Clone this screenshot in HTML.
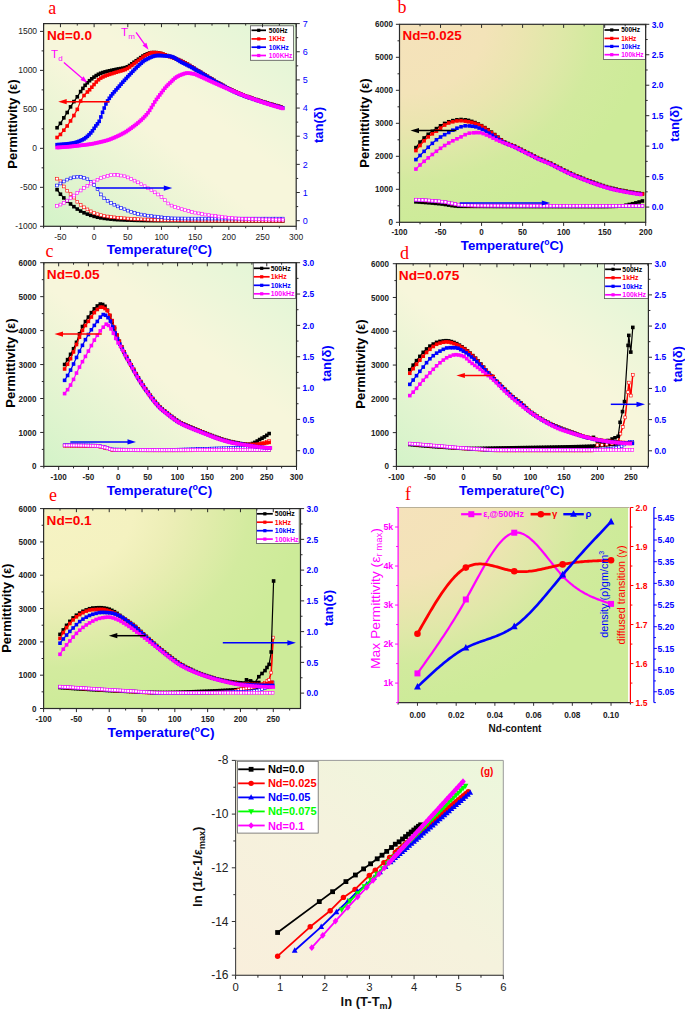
<!DOCTYPE html>
<html><head><meta charset="utf-8"><style>
html,body{margin:0;padding:0;background:#fff;width:685px;height:1010px;overflow:hidden}
svg{display:block}
text{font-family:"Liberation Sans", sans-serif}
</style></head><body>
<svg width="685" height="1010" viewBox="0 0 685 1010">
<defs><linearGradient id="ga" x1="0" y1="1" x2="1" y2="0"><stop offset="0" stop-color="#d3f3c8"/><stop offset="0.45" stop-color="#f7f6db"/><stop offset="0.6" stop-color="#f7f6db"/><stop offset="1" stop-color="#dff6d6"/></linearGradient><marker id="m0" markerUnits="userSpaceOnUse" markerWidth="10.8" markerHeight="10.8" refX="0" refY="0" viewBox="-5.4 -5.4 10.8 10.8" overflow="visible"><rect x="-1.8" y="-1.8" width="3.6" height="3.6" fill="#000"/></marker><marker id="m1" markerUnits="userSpaceOnUse" markerWidth="10.2" markerHeight="10.2" refX="0" refY="0" viewBox="-5.1 -5.1 10.2 10.2" overflow="visible"><rect x="-1.4" y="-1.4" width="2.8" height="2.8" fill="#fff" stroke="#ff0000" stroke-width="0.6"/></marker><marker id="m2" markerUnits="userSpaceOnUse" markerWidth="10.2" markerHeight="10.2" refX="0" refY="0" viewBox="-5.1 -5.1 10.2 10.2" overflow="visible"><rect x="-1.4" y="-1.4" width="2.8" height="2.8" fill="#fff" stroke="#0000ff" stroke-width="0.6"/></marker><marker id="m3" markerUnits="userSpaceOnUse" markerWidth="10.2" markerHeight="10.2" refX="0" refY="0" viewBox="-5.1 -5.1 10.2 10.2" overflow="visible"><rect x="-1.4" y="-1.4" width="2.8" height="2.8" fill="#fff" stroke="#ff00ff" stroke-width="0.6"/></marker><marker id="m4" markerUnits="userSpaceOnUse" markerWidth="10.8" markerHeight="10.8" refX="0" refY="0" viewBox="-5.4 -5.4 10.8 10.8" overflow="visible"><rect x="-1.8" y="-1.8" width="3.6" height="3.6" fill="#ff0000"/></marker><marker id="m5" markerUnits="userSpaceOnUse" markerWidth="10.8" markerHeight="10.8" refX="0" refY="0" viewBox="-5.4 -5.4 10.8 10.8" overflow="visible"><rect x="-1.8" y="-1.8" width="3.6" height="3.6" fill="#0000ff"/></marker><marker id="m6" markerUnits="userSpaceOnUse" markerWidth="10.8" markerHeight="10.8" refX="0" refY="0" viewBox="-5.4 -5.4 10.8 10.8" overflow="visible"><rect x="-1.8" y="-1.8" width="3.6" height="3.6" fill="#ff00ff"/></marker><radialGradient id="gb" cx="0" cy="0" r="1"><stop offset="0" stop-color="#f5e2bb"/><stop offset="0.35" stop-color="#f3e3b8"/><stop offset="0.5" stop-color="#ebe5b0"/><stop offset="0.65" stop-color="#dfe8a8"/><stop offset="0.8" stop-color="#d2ea9e"/><stop offset="1" stop-color="#cdeb99"/></radialGradient><linearGradient id="gc" x1="0" y1="1" x2="1" y2="0"><stop offset="0" stop-color="#d3f3c8"/><stop offset="0.45" stop-color="#f7f6db"/><stop offset="0.6" stop-color="#f7f6db"/><stop offset="1" stop-color="#dff6d6"/></linearGradient><marker id="m7" markerUnits="userSpaceOnUse" markerWidth="9" markerHeight="9" refX="0" refY="0" viewBox="-4.5 -4.5 9 9" overflow="visible"><rect x="-1.5" y="-1.5" width="3" height="3" fill="#000"/></marker><linearGradient id="gd" x1="0" y1="1" x2="1" y2="0"><stop offset="0" stop-color="#d3f3c8"/><stop offset="0.45" stop-color="#f7f6db"/><stop offset="0.6" stop-color="#f7f6db"/><stop offset="1" stop-color="#dff6d6"/></linearGradient><radialGradient id="ge" cx="0" cy="0" r="1"><stop offset="0" stop-color="#f6f3c4"/><stop offset="0.35" stop-color="#f4f2c0"/><stop offset="0.5" stop-color="#eceeb6"/><stop offset="0.65" stop-color="#e0ecaa"/><stop offset="0.8" stop-color="#d3eb9f"/><stop offset="1" stop-color="#cdeb99"/></radialGradient><radialGradient id="gf" cx="0" cy="0" r="1"><stop offset="0" stop-color="#f5e2bb"/><stop offset="0.35" stop-color="#f3e3b8"/><stop offset="0.5" stop-color="#ebe5b0"/><stop offset="0.65" stop-color="#dfe8a8"/><stop offset="0.8" stop-color="#d2ea9e"/><stop offset="1" stop-color="#cdeb99"/></radialGradient><rect id="fsq" x="-3" y="-3" width="6" height="6" fill="#ff00ff"/><circle id="fci" r="3.3" fill="#ff0000"/><polygon id="ftr" points="0,-4 3.4,2.6 -3.4,2.6" fill="#0000ff"/><linearGradient id="gg" x1="0" y1="1" x2="1" y2="0"><stop offset="0" stop-color="#f9efdc"/><stop offset="0.5" stop-color="#f5f2dd"/><stop offset="1" stop-color="#ecf7dc"/></linearGradient><marker id="m8" markerUnits="userSpaceOnUse" markerWidth="14.4" markerHeight="14.4" refX="0" refY="0" viewBox="-7.2 -7.2 14.4 14.4" overflow="visible"><rect x="-2.4" y="-2.4" width="4.8" height="4.8" fill="#000"/></marker><marker id="m9" markerUnits="userSpaceOnUse" markerWidth="16.2" markerHeight="16.2" refX="0" refY="0" viewBox="-8.1 -8.1 16.2 16.2" overflow="visible"><circle r="2.7" fill="#ff0000"/></marker><marker id="m10" markerUnits="userSpaceOnUse" markerWidth="17.4" markerHeight="17.4" refX="0" refY="0" viewBox="-8.7 -8.7 17.4 17.4" overflow="visible"><polygon points="0,-3.19 2.9,2.17 -2.9,2.17" fill="#0000ff"/></marker><marker id="m11" markerUnits="userSpaceOnUse" markerWidth="17.4" markerHeight="17.4" refX="0" refY="0" viewBox="-8.7 -8.7 17.4 17.4" overflow="visible"><polygon points="0,3.19 2.9,-2.17 -2.9,-2.17" fill="#00ff00"/></marker><marker id="m12" markerUnits="userSpaceOnUse" markerWidth="16.8" markerHeight="16.8" refX="0" refY="0" viewBox="-8.4 -8.4 16.8 16.8" overflow="visible"><polygon points="0,-3.36 2.8,0 0,3.36 -2.8,0" fill="#ff00ff"/></marker></defs>
<rect width="685" height="1010" fill="#fff"/>
<rect x="43.6" y="23.6" width="252.6" height="202.7" fill="url(#ga)" stroke="none" stroke-width="1"/>
<polyline points="57.07,189.66 60.44,194.21 63.81,197.91 67.18,201.08 70.54,203.95 73.91,206.67 77.28,209.05 80.65,211.07 84.02,212.79 87.38,214.14 90.75,215.33 94.12,216.38 97.49,217.25 100.86,217.89 104.22,218.38 107.59,218.8 110.96,219.17 114.33,219.47 117.7,219.69 121.06,219.85 124.43,219.98 127.8,220.1 131.17,220.21 134.54,220.31 137.9,220.4 141.27,220.48 144.64,220.54 148.01,220.6 151.38,220.64 154.74,220.68 158.11,220.7 161.48,220.72 164.85,220.73 168.22,220.75 171.58,220.77 174.95,220.78 178.32,220.79 181.69,220.81 185.06,220.82 188.42,220.83 191.79,220.85 195.16,220.86 198.53,220.87 201.9,220.88 205.26,220.89 208.63,220.9 212,220.91 215.37,220.92 218.74,220.93 222.1,220.93 225.47,220.94 228.84,220.95 232.21,220.95 235.58,220.96 238.94,220.97 242.31,220.97 245.68,220.98 249.05,220.98 252.42,220.98 255.78,220.99 259.15,220.99 262.52,220.99 265.89,220.99 269.26,221 272.62,221 275.99,221 279.36,221 282.73,221" fill="none" stroke="#000" stroke-width="1.2" stroke-linejoin="round" marker-start="url(#m0)" marker-mid="url(#m0)" marker-end="url(#m0)"/>
<polyline points="57.07,178.67 60.44,181.26 63.81,186.47 67.18,190.71 70.54,194.16 73.91,197.58 77.28,201.74 80.65,204.84 84.02,207.32 87.38,209.42 90.75,211.35 94.12,213 97.49,214.22 100.86,215.13 104.22,215.89 107.59,216.5 110.96,216.97 114.33,217.36 117.7,217.71 121.06,218.03 124.43,218.31 127.8,218.56 131.17,218.78 134.54,218.98 137.9,219.15 141.27,219.31 144.64,219.46 148.01,219.6 151.38,219.73 154.74,219.85 158.11,219.96 161.48,220.06 164.85,220.15 168.22,220.22 171.58,220.27 174.95,220.31 178.32,220.34 181.69,220.37 185.06,220.4 188.42,220.42 191.79,220.45 195.16,220.48 198.53,220.5 201.9,220.52 205.26,220.55 208.63,220.57 212,220.59 215.37,220.61 218.74,220.63 222.1,220.64 225.47,220.66 228.84,220.68 232.21,220.69 235.58,220.71 238.94,220.72 242.31,220.73 245.68,220.74 249.05,220.75 252.42,220.76 255.78,220.77 259.15,220.78 262.52,220.78 265.89,220.79 269.26,220.79 272.62,220.8 275.99,220.8 279.36,220.8 282.73,220.8" fill="none" stroke="#ff0000" stroke-width="0.6" stroke-linejoin="round" marker-start="url(#m1)" marker-mid="url(#m1)" marker-end="url(#m1)"/>
<polyline points="57.07,185.49 60.44,183.48 63.81,181.48 67.18,179.62 70.54,178.37 73.91,177.32 77.28,176.73 80.65,176.93 84.02,177.76 87.38,179.28 90.75,181.86 94.12,185.01 97.49,189.01 100.86,194.43 104.22,198.3 107.59,200.82 110.96,202.84 114.33,204.71 117.7,206.4 121.06,207.92 124.43,209.29 127.8,210.61 131.17,211.86 134.54,212.97 137.9,213.88 141.27,214.57 144.64,215.16 148.01,215.67 151.38,216.12 154.74,216.54 158.11,216.92 161.48,217.33 164.85,217.73 168.22,218.07 171.58,218.32 174.95,218.41 178.32,218.46 181.69,218.5 185.06,218.53 188.42,218.56 191.79,218.58 195.16,218.59 198.53,218.6 201.9,218.6 205.26,218.6 208.63,218.6 212,218.6 215.37,218.6 218.74,218.6 222.1,218.6 225.47,218.6 228.84,218.6 232.21,218.6 235.58,218.6 238.94,218.6 242.31,218.6 245.68,218.6 249.05,218.6 252.42,218.6 255.78,218.6 259.15,218.6 262.52,218.6 265.89,218.6 269.26,218.6 272.62,218.6 275.99,218.6 279.36,218.6 282.73,218.6" fill="none" stroke="#0000ff" stroke-width="0.6" stroke-linejoin="round" marker-start="url(#m2)" marker-mid="url(#m2)" marker-end="url(#m2)"/>
<polyline points="57.07,205.85 60.44,204.55 63.81,202.85 67.18,200.56 70.54,198.04 73.91,195.53 77.28,192.98 80.65,190.5 84.02,188.05 87.38,185.74 90.75,183.55 94.12,181.49 97.49,179.71 100.86,178.14 104.22,176.8 107.59,175.86 110.96,175.12 114.33,174.8 117.7,175.03 121.06,175.58 124.43,176.27 127.8,177.4 131.17,178.95 134.54,180.63 137.9,182.33 141.27,184.22 144.64,186.22 148.01,188.26 151.38,190.28 154.74,192.32 158.11,194.49 161.48,196.91 164.85,200.11 168.22,203.49 171.58,205.57 174.95,206.97 178.32,208.1 181.69,209.15 185.06,210.14 188.42,211.06 191.79,211.9 195.16,212.67 198.53,213.37 201.9,214 205.26,214.58 208.63,215.12 212,215.61 215.37,216.07 218.74,216.49 222.1,216.91 225.47,217.33 228.84,217.72 232.21,218.08 235.58,218.38 238.94,218.58 242.31,218.72 245.68,218.84 249.05,218.96 252.42,219.07 255.78,219.18 259.15,219.27 262.52,219.35 265.89,219.42 269.26,219.48 272.62,219.53 275.99,219.57 279.36,219.59 282.73,219.6" fill="none" stroke="#ff00ff" stroke-width="0.6" stroke-linejoin="round" marker-start="url(#m3)" marker-mid="url(#m3)" marker-end="url(#m3)"/>
<polyline points="57.07,127.75 60.44,123.34 63.81,117.85 67.18,112.5 70.54,106.85 73.91,101.58 77.28,96.78 80.65,91.57 82.87,88.37 85.09,85.33 87.32,82.77 89.54,80.72 91.76,78.82 93.99,77.1 96.21,75.58 98.43,74.3 100.65,73.29 102.88,72.52 105.1,71.86 107.32,71.29 109.55,70.78 111.77,70.31 113.99,69.85 116.21,69.38 118.44,68.95 120.66,68.58 122.88,68.18 125.11,67.64 127.33,66.79 129.55,65.45 131.77,63.85 134,62.24 136.22,60.76 138.44,59.19 140.67,57.59 142.89,56.08 145.11,54.81 147.33,53.87 149.56,53.04 151.78,52.6 154,52.6 156.23,52.6 158.45,52.86 160.67,53.44 162.89,54.18 165.12,54.91 167.34,55.59 169.56,56.31 171.79,57.07 174.01,57.89 176.23,58.75 178.45,59.67 180.68,60.65 182.9,61.74 185.12,62.94 187.35,64.21 189.57,65.55 191.79,66.92 194.01,68.31 196.24,69.7 198.46,71.06 200.68,72.38 202.91,73.72 205.13,75.08 207.35,76.45 209.58,77.82 211.8,79.17 214.02,80.51 216.24,81.81 218.47,83.08 220.69,84.29 222.91,85.5 225.14,86.69 227.36,87.87 229.58,89.02 231.8,90.13 234.03,91.21 236.25,92.24 238.47,93.21 240.7,94.13 242.92,95 245.14,95.84 247.36,96.64 249.59,97.42 251.81,98.17 254.03,98.9 256.26,99.63 258.48,100.34 260.7,101.04 262.92,101.74 265.15,102.43 267.37,103.1 269.59,103.76 271.82,104.41 274.04,105.05 276.26,105.67 278.48,106.28 280.71,106.88" fill="none" stroke="#000" stroke-width="1.2" stroke-linejoin="round" marker-start="url(#m0)" marker-mid="url(#m0)" marker-end="url(#m0)"/>
<polyline points="57.07,137.49 60.44,134.46 63.81,130.22 67.18,125.97 70.54,120.94 73.91,115.52 77.28,109.36 80.65,100.98 84.02,95.49 87.38,91.99 89.61,89.75 91.83,87.2 94.05,84.54 96.28,81.98 98.5,79.77 100.72,78.1 102.94,76.94 105.17,75.95 107.39,75.1 109.61,74.35 111.84,73.65 114.06,72.96 116.28,72.24 118.5,71.58 120.73,70.98 122.95,70.35 125.17,69.57 127.4,68.5 129.62,67.07 131.84,65.41 134.06,63.67 136.29,62 138.51,60.43 140.73,58.77 142.96,57.14 145.18,55.67 147.4,54.5 149.62,53.49 151.85,52.73 154.07,52.62 156.29,52.75 158.52,52.96 160.74,53.41 162.96,54.12 165.18,54.96 167.41,55.84 169.63,56.65 171.85,57.4 174.08,58.16 176.3,58.95 178.52,59.82 180.74,60.78 182.97,61.86 185.19,63.04 187.41,64.3 189.64,65.63 191.86,66.99 194.08,68.38 196.31,69.75 198.53,71.1 200.75,72.42 202.97,73.76 205.2,75.11 207.42,76.48 209.64,77.85 211.87,79.21 214.09,80.55 216.31,81.85 218.53,83.11 220.76,84.33 222.98,85.54 225.2,86.73 227.43,87.9 229.65,89.05 231.87,90.17 234.09,91.24 236.32,92.27 238.54,93.24 240.76,94.15 242.99,95.03 245.21,95.86 247.43,96.66 249.65,97.44 251.88,98.19 254.1,98.93 256.32,99.65 258.55,100.36 260.77,101.07 262.99,101.76 265.21,102.45 267.44,103.12 269.66,103.78 271.88,104.43 274.11,105.07 276.33,105.69 278.55,106.3 280.77,106.9" fill="none" stroke="#ff0000" stroke-width="1.2" stroke-linejoin="round" marker-start="url(#m4)" marker-mid="url(#m4)" marker-end="url(#m4)"/>
<polyline points="57.07,144.68 58.76,144.62 60.44,144.53 62.12,144.41 63.81,144.27 65.49,144.1 67.18,143.91 68.86,143.71 70.54,143.49 72.23,143.25 73.91,142.93 75.6,142.5 77.28,141.96 78.96,141.33 80.65,140.61 82.33,139.83 84.02,138.92 85.7,137.74 87.38,136.32 89.07,134.71 90.75,132.96 92.44,130.85 94.12,128.34 95.8,125.92 97.49,123.81 99.17,121.31 100.86,116.93 102.54,112.31 104.22,108.03 105.91,103.96 107.59,100.91 109.28,98.29 110.96,95.95 112.64,93.81 114.33,91.82 116.01,89.92 117.7,88.03 119.38,86.11 121.06,84.13 122.75,82.19 124.43,80.3 126.12,78.45 127.8,76.63 129.48,74.84 131.17,73.07 132.85,71.3 134.54,69.56 136.22,67.85 137.9,66.21 139.59,64.65 141.27,63.14 142.96,61.65 144.64,60.38 146.32,59.46 148.01,58.59 149.69,57.77 151.38,57.02 153.06,56.38 154.74,55.9 156.43,55.59 158.11,55.5 159.8,55.52 161.48,55.59 163.16,55.68 164.85,55.81 166.53,55.97 168.22,56.16 169.9,56.36 171.58,56.63 173.27,57.22 174.95,58.11 176.64,59.17 178.32,60.3 180,61.38 181.69,62.31 183.37,63.16 185.06,64 186.74,64.84 188.42,65.69 190.11,66.56 191.79,67.47 193.48,68.42 195.16,69.41 196.84,70.41 198.53,71.42 200.21,72.43 201.9,73.43 203.58,74.45 205.26,75.48 206.95,76.51 208.63,77.54 210.32,78.57 212,79.59 213.68,80.6 215.37,81.6 217.05,82.57 218.74,83.52 220.42,84.45 222.1,85.37 223.79,86.29 225.47,87.2 227.16,88.1 228.84,88.99 230.52,89.85 232.21,90.7 233.89,91.52 235.58,92.32 237.26,93.08 238.94,93.81 240.63,94.5 242.31,95.17 244,95.81 245.68,96.44 247.36,97.04 249.05,97.63 250.73,98.2 252.42,98.77 254.1,99.32 255.78,99.87 257.47,100.41 259.15,100.95 260.84,101.49 262.52,102.02 264.2,102.55 265.89,103.07 267.57,103.59 269.26,104.1 270.94,104.6 272.62,105.09 274.31,105.58 275.99,106.06 277.68,106.53 279.36,107 281.04,107.45 282.73,107.9" fill="none" stroke="#0000ff" stroke-width="1.2" stroke-linejoin="round" marker-start="url(#m5)" marker-mid="url(#m5)" marker-end="url(#m5)"/>
<polyline points="57.07,147.54 58.76,147.45 60.44,147.34 62.12,147.23 63.81,147.11 65.49,146.98 67.18,146.84 68.86,146.7 70.54,146.55 72.23,146.38 73.91,146.2 75.6,146 77.28,145.79 78.96,145.58 80.65,145.37 82.33,145.16 84.02,144.96 85.7,144.77 87.38,144.56 89.07,144.34 90.75,144.08 92.44,143.78 94.12,143.44 95.8,143.07 97.49,142.7 99.17,142.32 100.86,141.93 102.54,141.54 104.22,141.12 105.91,140.67 107.59,140.17 109.28,139.61 110.96,138.98 112.64,138.29 114.33,137.57 116.01,136.83 117.7,136.07 119.38,135.28 121.06,134.44 122.75,133.56 124.43,132.63 126.12,131.62 127.8,130.51 129.48,129.33 131.17,128.11 132.85,126.88 134.54,125.62 136.22,124.32 137.9,122.95 139.59,121.5 141.27,119.98 142.96,118.37 144.64,116.64 146.32,114.78 148.01,112.72 149.69,110.32 151.38,107.53 153.06,104.75 154.74,101.97 156.43,99.45 158.11,97.13 159.8,94.89 161.48,92.65 163.16,90.39 164.85,88.22 166.53,86.29 168.22,84.57 169.9,82.95 171.58,81.34 173.27,79.68 174.95,78.17 176.64,77 178.32,76.04 180,75.23 181.69,74.58 183.37,73.94 185.06,73.4 186.74,73.12 188.42,73.14 190.11,73.29 191.79,73.53 193.48,73.81 195.16,74.28 196.84,74.96 198.53,75.74 200.21,76.49 201.9,77.22 203.58,77.98 205.26,78.76 206.95,79.55 208.63,80.34 210.32,81.12 212,81.88 213.68,82.64 215.37,83.39 217.05,84.15 218.74,84.9 220.42,85.65 222.1,86.4 223.79,87.14 225.47,87.87 227.16,88.6 228.84,89.32 230.52,90.03 232.21,90.74 233.89,91.45 235.58,92.16 237.26,92.86 238.94,93.56 240.63,94.25 242.31,94.93 244,95.59 245.68,96.25 247.36,96.89 249.05,97.51 250.73,98.12 252.42,98.72 254.1,99.32 255.78,99.91 257.47,100.5 259.15,101.08 260.84,101.65 262.52,102.22 264.2,102.78 265.89,103.33 267.57,103.88 269.26,104.42 270.94,104.95 272.62,105.47 274.31,105.98 275.99,106.48 277.68,106.98 279.36,107.46 281.04,107.93 282.73,108.4" fill="none" stroke="#ff00ff" stroke-width="1.2" stroke-linejoin="round" marker-start="url(#m6)" marker-mid="url(#m6)" marker-end="url(#m6)"/>
<line x1="109.5" y1="101.7" x2="65.7" y2="101.7" stroke="#ff0000" stroke-width="1.5"/>
<polygon points="58.2,101.7 66.7,99.1 66.7,104.3" fill="#ff0000"/>
<line x1="96.2" y1="188.1" x2="164.8" y2="188.1" stroke="#0000ff" stroke-width="1.5"/>
<polygon points="172.3,188.1 163.8,190.7 163.8,185.5" fill="#0000ff"/>
<line x1="63.9" y1="62.4" x2="82.77" y2="78.77" stroke="#ff00ff" stroke-width="1.3"/>
<polygon points="87.3,82.7 80.44,79.93 83.59,76.3" fill="#ff00ff"/>
<line x1="136.1" y1="32.3" x2="145.03" y2="44.9" stroke="#ff00ff" stroke-width="1.3"/>
<polygon points="148.5,49.8 142.49,45.48 146.41,42.7" fill="#ff00ff"/>
<text x="51" y="57.7" font-size="11.5" fill="#ff00ff">T</text>
<text x="58.3" y="61.3" font-size="8" fill="#ff00ff">d</text>
<text x="120.9" y="35.8" font-size="11.5" fill="#ff00ff">T</text>
<text x="128.2" y="39.4" font-size="8" fill="#ff00ff">m</text>
<text x="47" y="39.6" font-size="13.6" fill="#ff0000" font-weight="bold">Nd=0.0</text>
<rect x="250.4" y="25.8" width="43.2" height="34.5" fill="#fff" stroke="#555" stroke-width="0.8"/>
<line x1="251.5" y1="30.3" x2="266" y2="30.3" stroke="#000" stroke-width="1.7"/>
<rect x="257.15" y="28.7" width="3.2" height="3.2" fill="#000" stroke="none" stroke-width="1"/>
<text x="268.8" y="32.64" font-size="6.5" fill="#000" font-weight="bold">500Hz</text>
<line x1="251.5" y1="38.9" x2="266" y2="38.9" stroke="#ff0000" stroke-width="1.7"/>
<rect x="257.15" y="37.3" width="3.2" height="3.2" fill="#ff0000" stroke="none" stroke-width="1"/>
<text x="268.8" y="41.24" font-size="6.5" fill="#ff0000" font-weight="bold">1KHz</text>
<line x1="251.5" y1="47.2" x2="266" y2="47.2" stroke="#0000ff" stroke-width="1.7"/>
<rect x="257.15" y="45.6" width="3.2" height="3.2" fill="#0000ff" stroke="none" stroke-width="1"/>
<text x="268.8" y="49.54" font-size="6.5" fill="#0000ff" font-weight="bold">10KHz</text>
<line x1="251.5" y1="55.5" x2="266" y2="55.5" stroke="#ff00ff" stroke-width="1.7"/>
<rect x="257.15" y="53.9" width="3.2" height="3.2" fill="#ff00ff" stroke="none" stroke-width="1"/>
<text x="268.8" y="57.84" font-size="6.5" fill="#ff00ff" font-weight="bold">100KHz</text>
<rect x="43.6" y="23.6" width="252.6" height="202.7" fill="none" stroke="#2b2b2b" stroke-width="1.2"/>
<line x1="60.44" y1="226.3" x2="60.44" y2="229.9" stroke="#2b2b2b" stroke-width="1"/>
<line x1="60.44" y1="23.6" x2="60.44" y2="27.2" stroke="#2b2b2b" stroke-width="1"/>
<line x1="94.12" y1="226.3" x2="94.12" y2="229.9" stroke="#2b2b2b" stroke-width="1"/>
<line x1="94.12" y1="23.6" x2="94.12" y2="27.2" stroke="#2b2b2b" stroke-width="1"/>
<line x1="127.8" y1="226.3" x2="127.8" y2="229.9" stroke="#2b2b2b" stroke-width="1"/>
<line x1="127.8" y1="23.6" x2="127.8" y2="27.2" stroke="#2b2b2b" stroke-width="1"/>
<line x1="161.48" y1="226.3" x2="161.48" y2="229.9" stroke="#2b2b2b" stroke-width="1"/>
<line x1="161.48" y1="23.6" x2="161.48" y2="27.2" stroke="#2b2b2b" stroke-width="1"/>
<line x1="195.16" y1="226.3" x2="195.16" y2="229.9" stroke="#2b2b2b" stroke-width="1"/>
<line x1="195.16" y1="23.6" x2="195.16" y2="27.2" stroke="#2b2b2b" stroke-width="1"/>
<line x1="228.84" y1="226.3" x2="228.84" y2="229.9" stroke="#2b2b2b" stroke-width="1"/>
<line x1="228.84" y1="23.6" x2="228.84" y2="27.2" stroke="#2b2b2b" stroke-width="1"/>
<line x1="262.52" y1="226.3" x2="262.52" y2="229.9" stroke="#2b2b2b" stroke-width="1"/>
<line x1="262.52" y1="23.6" x2="262.52" y2="27.2" stroke="#2b2b2b" stroke-width="1"/>
<line x1="296.2" y1="226.3" x2="296.2" y2="229.9" stroke="#2b2b2b" stroke-width="1"/>
<line x1="296.2" y1="23.6" x2="296.2" y2="27.2" stroke="#2b2b2b" stroke-width="1"/>
<line x1="43.6" y1="226.3" x2="43.6" y2="228.3" stroke="#2b2b2b" stroke-width="1"/>
<line x1="43.6" y1="23.6" x2="43.6" y2="25.6" stroke="#2b2b2b" stroke-width="1"/>
<line x1="77.28" y1="226.3" x2="77.28" y2="228.3" stroke="#2b2b2b" stroke-width="1"/>
<line x1="77.28" y1="23.6" x2="77.28" y2="25.6" stroke="#2b2b2b" stroke-width="1"/>
<line x1="110.96" y1="226.3" x2="110.96" y2="228.3" stroke="#2b2b2b" stroke-width="1"/>
<line x1="110.96" y1="23.6" x2="110.96" y2="25.6" stroke="#2b2b2b" stroke-width="1"/>
<line x1="144.64" y1="226.3" x2="144.64" y2="228.3" stroke="#2b2b2b" stroke-width="1"/>
<line x1="144.64" y1="23.6" x2="144.64" y2="25.6" stroke="#2b2b2b" stroke-width="1"/>
<line x1="178.32" y1="226.3" x2="178.32" y2="228.3" stroke="#2b2b2b" stroke-width="1"/>
<line x1="178.32" y1="23.6" x2="178.32" y2="25.6" stroke="#2b2b2b" stroke-width="1"/>
<line x1="212" y1="226.3" x2="212" y2="228.3" stroke="#2b2b2b" stroke-width="1"/>
<line x1="212" y1="23.6" x2="212" y2="25.6" stroke="#2b2b2b" stroke-width="1"/>
<line x1="245.68" y1="226.3" x2="245.68" y2="228.3" stroke="#2b2b2b" stroke-width="1"/>
<line x1="245.68" y1="23.6" x2="245.68" y2="25.6" stroke="#2b2b2b" stroke-width="1"/>
<line x1="279.36" y1="226.3" x2="279.36" y2="228.3" stroke="#2b2b2b" stroke-width="1"/>
<line x1="279.36" y1="23.6" x2="279.36" y2="25.6" stroke="#2b2b2b" stroke-width="1"/>
<text x="60.44" y="239.8" font-size="8.5" fill="#222" text-anchor="middle">-50</text>
<text x="94.12" y="239.8" font-size="8.5" fill="#222" text-anchor="middle">0</text>
<text x="127.8" y="239.8" font-size="8.5" fill="#222" text-anchor="middle">50</text>
<text x="161.48" y="239.8" font-size="8.5" fill="#222" text-anchor="middle">100</text>
<text x="195.16" y="239.8" font-size="8.5" fill="#222" text-anchor="middle">150</text>
<text x="228.84" y="239.8" font-size="8.5" fill="#222" text-anchor="middle">200</text>
<text x="262.52" y="239.8" font-size="8.5" fill="#222" text-anchor="middle">250</text>
<text x="296.2" y="239.8" font-size="8.5" fill="#222" text-anchor="middle">300</text>
<line x1="40" y1="226.3" x2="43.6" y2="226.3" stroke="#2b2b2b" stroke-width="1"/>
<line x1="40" y1="187.32" x2="43.6" y2="187.32" stroke="#2b2b2b" stroke-width="1"/>
<line x1="40" y1="148.34" x2="43.6" y2="148.34" stroke="#2b2b2b" stroke-width="1"/>
<line x1="40" y1="109.36" x2="43.6" y2="109.36" stroke="#2b2b2b" stroke-width="1"/>
<line x1="40" y1="70.38" x2="43.6" y2="70.38" stroke="#2b2b2b" stroke-width="1"/>
<line x1="40" y1="31.4" x2="43.6" y2="31.4" stroke="#2b2b2b" stroke-width="1"/>
<line x1="41.6" y1="206.81" x2="43.6" y2="206.81" stroke="#2b2b2b" stroke-width="1"/>
<line x1="41.6" y1="167.83" x2="43.6" y2="167.83" stroke="#2b2b2b" stroke-width="1"/>
<line x1="41.6" y1="128.85" x2="43.6" y2="128.85" stroke="#2b2b2b" stroke-width="1"/>
<line x1="41.6" y1="89.87" x2="43.6" y2="89.87" stroke="#2b2b2b" stroke-width="1"/>
<line x1="41.6" y1="50.89" x2="43.6" y2="50.89" stroke="#2b2b2b" stroke-width="1"/>
<text x="37.1" y="229.36" font-size="8.5" fill="#222" text-anchor="end">-1000</text>
<text x="37.1" y="190.38" font-size="8.5" fill="#222" text-anchor="end">-500</text>
<text x="37.1" y="151.4" font-size="8.5" fill="#222" text-anchor="end">0</text>
<text x="37.1" y="112.42" font-size="8.5" fill="#222" text-anchor="end">500</text>
<text x="37.1" y="73.44" font-size="8.5" fill="#222" text-anchor="end">1000</text>
<text x="37.1" y="34.46" font-size="8.5" fill="#222" text-anchor="end">1500</text>
<line x1="296.2" y1="220.67" x2="299.8" y2="220.67" stroke="#2b2b2b" stroke-width="1"/>
<line x1="296.2" y1="192.52" x2="299.8" y2="192.52" stroke="#2b2b2b" stroke-width="1"/>
<line x1="296.2" y1="164.36" x2="299.8" y2="164.36" stroke="#2b2b2b" stroke-width="1"/>
<line x1="296.2" y1="136.21" x2="299.8" y2="136.21" stroke="#2b2b2b" stroke-width="1"/>
<line x1="296.2" y1="108.06" x2="299.8" y2="108.06" stroke="#2b2b2b" stroke-width="1"/>
<line x1="296.2" y1="79.91" x2="299.8" y2="79.91" stroke="#2b2b2b" stroke-width="1"/>
<line x1="296.2" y1="51.75" x2="299.8" y2="51.75" stroke="#2b2b2b" stroke-width="1"/>
<line x1="296.2" y1="23.6" x2="299.8" y2="23.6" stroke="#2b2b2b" stroke-width="1"/>
<line x1="296.2" y1="206.59" x2="298.2" y2="206.59" stroke="#2b2b2b" stroke-width="1"/>
<line x1="296.2" y1="178.44" x2="298.2" y2="178.44" stroke="#2b2b2b" stroke-width="1"/>
<line x1="296.2" y1="150.29" x2="298.2" y2="150.29" stroke="#2b2b2b" stroke-width="1"/>
<line x1="296.2" y1="122.13" x2="298.2" y2="122.13" stroke="#2b2b2b" stroke-width="1"/>
<line x1="296.2" y1="93.98" x2="298.2" y2="93.98" stroke="#2b2b2b" stroke-width="1"/>
<line x1="296.2" y1="65.83" x2="298.2" y2="65.83" stroke="#2b2b2b" stroke-width="1"/>
<line x1="296.2" y1="37.68" x2="298.2" y2="37.68" stroke="#2b2b2b" stroke-width="1"/>
<text x="302.7" y="223.91" font-size="9" fill="#0000ff">0</text>
<text x="302.7" y="195.76" font-size="9" fill="#0000ff">1</text>
<text x="302.7" y="167.6" font-size="9" fill="#0000ff">2</text>
<text x="302.7" y="139.45" font-size="9" fill="#0000ff">3</text>
<text x="302.7" y="111.3" font-size="9" fill="#0000ff">4</text>
<text x="302.7" y="83.15" font-size="9" fill="#0000ff">5</text>
<text x="302.7" y="54.99" font-size="9" fill="#0000ff">6</text>
<text x="302.7" y="26.84" font-size="9" fill="#0000ff">7</text>
<text x="48.3" y="13.6" font-size="18" fill="#ff0000" style="font-family:'Liberation Serif', serif">a</text>
<text x="17" y="124" font-size="13" fill="#000" font-weight="bold" text-anchor="middle" transform="rotate(-90 17 124)">Permittivity (ε)</text>
<text x="323" y="125" font-size="13" fill="#0000ff" font-weight="bold" text-anchor="middle" transform="rotate(-90 323 125)">tan(δ)</text>
<text x="106.7" y="254.2" font-size="13.1" fill="#0000ff" font-weight="bold" textLength="105.3" lengthAdjust="spacingAndGlyphs">Temperature(<tspan dy="-4.6" font-size="8.5">o</tspan><tspan dy="4.6">C)</tspan></text>
<rect x="399.5" y="24.3" width="246.2" height="198" fill="url(#gb)" stroke="none" stroke-width="1"/>
<polyline points="415.91,201.85 419.2,202.05 422.48,202.28 425.76,202.53 429.04,202.79 432.33,203.08 435.61,203.38 438.89,203.69 442.17,204.05 445.46,204.53 448.74,205.08 452.02,205.6 455.31,206.02 458.59,206.27 461.87,206.31 465.15,206.33 468.44,206.34 471.72,206.36 475,206.38 478.28,206.39 481.57,206.4 484.85,206.42 488.13,206.43 491.41,206.44 494.7,206.46 497.98,206.47 501.26,206.48 504.55,206.49 507.83,206.5 511.11,206.51 514.39,206.51 517.68,206.52 520.96,206.53 524.24,206.54 527.52,206.54 530.81,206.55 534.09,206.55 537.37,206.56 540.65,206.56 543.94,206.57 547.22,206.57 550.5,206.58 553.79,206.58 557.07,206.58 560.35,206.59 563.63,206.59 566.92,206.59 570.2,206.59 573.48,206.59 576.76,206.6 580.05,206.6 583.33,206.6 586.61,206.6 589.89,206.6 593.18,206.6 596.46,206.6 599.74,206.6 603.03,206.59 606.31,206.56 609.59,206.5 612.87,206.42 616.16,206.32 619.44,206.19 622.72,205.84 626,205.19 629.29,204.45 632.57,203.72 635.85,202.89 639.13,201.97 642.42,200.96" fill="none" stroke="#000" stroke-width="1.2" stroke-linejoin="round" marker-start="url(#m0)" marker-mid="url(#m0)" marker-end="url(#m0)"/>
<polyline points="415.91,200.04 419.2,200.2 422.48,200.38 425.76,200.6 429.04,200.83 432.33,201.08 435.61,201.37 438.89,201.69 442.17,202.05 445.46,202.46 448.74,203.04 452.02,203.76 455.31,204.45 458.59,204.97 461.87,205.22 465.15,205.42 468.44,205.59 471.72,205.72 475,205.82 478.28,205.88 481.57,205.91 484.85,205.93 488.13,205.95 491.41,205.96 494.7,205.98 497.98,206 501.26,206.01 504.55,206.03 507.83,206.04 511.11,206.05 514.39,206.06 517.68,206.08 520.96,206.09 524.24,206.1 527.52,206.11 530.81,206.12 534.09,206.13 537.37,206.13 540.65,206.14 543.94,206.15 547.22,206.15 550.5,206.16 553.79,206.17 557.07,206.17 560.35,206.18 563.63,206.18 566.92,206.18 570.2,206.19 573.48,206.19 576.76,206.19 580.05,206.19 583.33,206.2 586.61,206.2 589.89,206.2 593.18,206.2 596.46,206.2 599.74,206.2 603.03,206.2 606.31,206.2 609.59,206.2 612.87,206.2 616.16,206.2 619.44,206.2 622.72,206.2 626,206.2 629.29,206.2 632.57,206.2 635.85,206.2 639.13,206.2 642.42,206.2" fill="none" stroke="#ff0000" stroke-width="0.6" stroke-linejoin="round" marker-start="url(#m1)" marker-mid="url(#m1)" marker-end="url(#m1)"/>
<polyline points="415.91,199.84 419.2,200 422.48,200.18 425.76,200.4 429.04,200.63 432.33,200.88 435.61,201.17 438.89,201.49 442.17,201.85 445.46,202.26 448.74,202.84 452.02,203.56 455.31,204.25 458.59,204.77 461.87,205.02 465.15,205.22 468.44,205.39 471.72,205.52 475,205.62 478.28,205.68 481.57,205.71 484.85,205.73 488.13,205.75 491.41,205.76 494.7,205.78 497.98,205.8 501.26,205.81 504.55,205.83 507.83,205.84 511.11,205.85 514.39,205.86 517.68,205.88 520.96,205.89 524.24,205.9 527.52,205.91 530.81,205.92 534.09,205.93 537.37,205.93 540.65,205.94 543.94,205.95 547.22,205.95 550.5,205.96 553.79,205.97 557.07,205.97 560.35,205.98 563.63,205.98 566.92,205.98 570.2,205.99 573.48,205.99 576.76,205.99 580.05,205.99 583.33,206 586.61,206 589.89,206 593.18,206 596.46,206 599.74,206 603.03,206 606.31,206 609.59,206 612.87,206 616.16,206 619.44,206 622.72,206 626,206 629.29,206 632.57,206 635.85,206 639.13,206 642.42,206" fill="none" stroke="#0000ff" stroke-width="0.6" stroke-linejoin="round" marker-start="url(#m2)" marker-mid="url(#m2)" marker-end="url(#m2)"/>
<polyline points="415.91,199.64 419.2,199.8 422.48,199.98 425.76,200.2 429.04,200.43 432.33,200.68 435.61,200.97 438.89,201.29 442.17,201.65 445.46,202.06 448.74,202.64 452.02,203.36 455.31,204.05 458.59,204.57 461.87,204.82 465.15,205.02 468.44,205.19 471.72,205.32 475,205.42 478.28,205.48 481.57,205.51 484.85,205.53 488.13,205.55 491.41,205.56 494.7,205.58 497.98,205.6 501.26,205.61 504.55,205.63 507.83,205.64 511.11,205.65 514.39,205.66 517.68,205.68 520.96,205.69 524.24,205.7 527.52,205.71 530.81,205.72 534.09,205.73 537.37,205.73 540.65,205.74 543.94,205.75 547.22,205.75 550.5,205.76 553.79,205.77 557.07,205.77 560.35,205.78 563.63,205.78 566.92,205.78 570.2,205.79 573.48,205.79 576.76,205.79 580.05,205.79 583.33,205.8 586.61,205.8 589.89,205.8 593.18,205.8 596.46,205.8 599.74,205.8 603.03,205.8 606.31,205.8 609.59,205.8 612.87,205.8 616.16,205.8 619.44,205.8 622.72,205.8 626,205.8 629.29,205.8 632.57,205.8 635.85,205.8 639.13,205.8 642.42,205.8" fill="none" stroke="#ff00ff" stroke-width="0.6" stroke-linejoin="round" marker-start="url(#m3)" marker-mid="url(#m3)" marker-end="url(#m3)"/>
<polyline points="415.91,147.63 420.02,142.08 424.12,137.99 428.22,134.3 432.33,131.31 436.43,128.61 440.53,125.81 444.64,123.42 448.74,121.77 452.84,120.63 456.95,119.79 461.05,119.51 465.15,119.82 468.44,120.4 471.72,121.41 475,122.59 478.28,124.02 481.57,125.68 484.85,127.63 488.13,129.75 491.41,132.12 494.7,134.57 497.98,137.19 501.26,139.84 504.55,142.06 507.83,143.55 511.11,144.74 514.39,146.07 517.68,147.67 520.96,149.37 524.24,151.01 527.52,152.63 530.81,154.25 534.09,155.92 537.37,157.6 540.65,159.14 543.94,160.45 547.22,161.73 550.5,163.19 553.79,164.84 557.07,166.53 560.35,168.19 563.63,169.84 566.92,171.45 570.2,173 573.48,174.5 576.76,175.9 580.05,177.2 583.33,178.48 586.61,179.76 589.89,181.04 593.18,182.25 596.46,183.4 599.74,184.52 603.03,185.61 606.31,186.64 609.59,187.58 612.87,188.41 616.16,189.17 619.44,189.87 622.72,190.52 626,191.13 629.29,191.71 632.57,192.26 635.85,192.78 639.13,193.27 642.42,193.72" fill="none" stroke="#000" stroke-width="1.2" stroke-linejoin="round" marker-start="url(#m0)" marker-mid="url(#m0)" marker-end="url(#m0)"/>
<polyline points="415.91,150.55 420.02,145.48 424.12,140.82 428.22,136.86 432.33,133.83 436.43,131.12 440.53,128.12 444.64,125.06 448.74,122.99 452.84,121.8 456.95,120.95 461.05,120.72 465.15,121.15 468.44,121.74 471.72,122.42 475,123.38 478.28,124.59 481.57,126.1 484.85,128.1 488.13,130.26 491.41,132.63 494.7,135.07 497.98,137.63 501.26,140.2 504.55,142.36 507.83,143.84 511.11,145.04 514.39,146.37 517.68,147.97 520.96,149.67 524.24,151.31 527.52,152.93 530.81,154.55 534.09,156.22 537.37,157.9 540.65,159.44 543.94,160.75 547.22,162.03 550.5,163.49 553.79,165.14 557.07,166.83 560.35,168.49 563.63,170.14 566.92,171.75 570.2,173.3 573.48,174.8 576.76,176.2 580.05,177.5 583.33,178.78 586.61,180.06 589.89,181.34 593.18,182.55 596.46,183.7 599.74,184.82 603.03,185.91 606.31,186.94 609.59,187.88 612.87,188.71 616.16,189.47 619.44,190.17 622.72,190.82 626,191.43 629.29,192.01 632.57,192.56 635.85,193.08 639.13,193.57 642.42,194.02" fill="none" stroke="#ff0000" stroke-width="1.2" stroke-linejoin="round" marker-start="url(#m4)" marker-mid="url(#m4)" marker-end="url(#m4)"/>
<polyline points="415.91,159.59 420.02,155.48 424.12,151.33 428.22,147.3 432.33,143.33 436.43,139.77 440.53,137.01 444.64,134.67 448.74,132.48 452.84,130.21 456.95,128.2 461.05,126.77 465.15,125.83 469.26,125.94 472.54,126.27 475.82,126.86 479.1,128.02 482.39,129.48 485.67,131.12 488.95,133.13 492.24,135.22 495.52,137.27 498.8,139.41 502.08,141.44 505.37,143.17 508.65,144.51 511.93,145.73 515.21,147.15 518.5,148.79 521.78,150.49 525.06,152.12 528.34,153.74 531.63,155.36 534.91,157.05 538.19,158.71 541.48,160.19 544.76,161.47 548.04,162.77 551.32,164.29 554.61,165.97 557.89,167.64 561.17,169.3 564.45,170.95 567.74,172.54 571.02,174.08 574.3,175.56 577.58,176.93 580.87,178.22 584.15,179.5 587.43,180.79 590.72,182.05 594,183.24 597.28,184.38 600.56,185.5 603.85,186.57 607.13,187.58 610.41,188.5 613.69,189.31 616.98,190.05 620.26,190.73 623.54,191.37 626.82,191.98 630.11,192.55 633.39,193.1 636.67,193.61 639.96,194.08" fill="none" stroke="#0000ff" stroke-width="1.2" stroke-linejoin="round" marker-start="url(#m5)" marker-mid="url(#m5)" marker-end="url(#m5)"/>
<polyline points="415.91,169.08 420.02,164.98 424.12,161.32 428.22,157.86 432.33,154.48 436.43,151.27 440.53,148.3 444.64,145.49 448.74,142.98 452.84,140.79 456.95,138.81 461.05,136.89 465.15,134.68 469.26,133.17 473.36,132.8 476.64,132.63 479.93,132.68 483.21,133.6 486.49,134.99 489.77,136.42 493.06,138.17 496.34,139.82 499.62,141.19 502.9,142.48 506.19,143.77 509.47,145.03 512.75,146.35 516.03,147.85 519.32,149.52 522.6,151.2 525.88,152.82 529.17,154.44 532.45,156.08 535.73,157.77 539.01,159.4 542.3,160.82 545.58,162.08 548.86,163.43 552.14,165 555.43,166.69 558.71,168.36 561.99,170.02 565.27,171.66 568.56,173.23 571.84,174.76 575.12,176.21 578.41,177.56 581.69,178.84 584.97,180.12 588.25,181.41 591.54,182.66 594.82,183.82 598.1,184.96 601.38,186.07 604.67,187.13 607.95,188.12 611.23,189.01 614.51,189.8 617.8,190.52 621.08,191.2 624.36,191.83 627.65,192.42 630.93,192.99 634.21,193.53 637.49,194.03 640.78,194.5" fill="none" stroke="#ff00ff" stroke-width="1.2" stroke-linejoin="round" marker-start="url(#m6)" marker-mid="url(#m6)" marker-end="url(#m6)"/>
<line x1="456.4" y1="130.6" x2="418" y2="130.6" stroke="#000" stroke-width="1.5"/>
<polygon points="410.5,130.6 419,128 419,133.2" fill="#000"/>
<line x1="459.7" y1="203" x2="542.8" y2="203" stroke="#0000ff" stroke-width="1.5"/>
<polygon points="550.3,203 541.8,205.6 541.8,200.4" fill="#0000ff"/>
<text x="402.5" y="40.2" font-size="13.4" fill="#ff0000" font-weight="bold">Nd=0.025</text>
<rect x="603.5" y="24.9" width="42" height="34.6" fill="#fff" stroke="#555" stroke-width="0.8"/>
<line x1="604.5" y1="30" x2="619" y2="30" stroke="#000" stroke-width="1.7"/>
<rect x="610.15" y="28.4" width="3.2" height="3.2" fill="#000" stroke="none" stroke-width="1"/>
<text x="621.2" y="32.34" font-size="6.5" fill="#000" font-weight="bold">500Hz</text>
<line x1="604.5" y1="38.4" x2="619" y2="38.4" stroke="#ff0000" stroke-width="1.7"/>
<rect x="610.15" y="36.8" width="3.2" height="3.2" fill="#ff0000" stroke="none" stroke-width="1"/>
<text x="621.2" y="40.74" font-size="6.5" fill="#ff0000" font-weight="bold">1kHz</text>
<line x1="604.5" y1="46.4" x2="619" y2="46.4" stroke="#0000ff" stroke-width="1.7"/>
<rect x="610.15" y="44.8" width="3.2" height="3.2" fill="#0000ff" stroke="none" stroke-width="1"/>
<text x="621.2" y="48.74" font-size="6.5" fill="#0000ff" font-weight="bold">10kHz</text>
<line x1="604.5" y1="54.7" x2="619" y2="54.7" stroke="#ff00ff" stroke-width="1.7"/>
<rect x="610.15" y="53.1" width="3.2" height="3.2" fill="#ff00ff" stroke="none" stroke-width="1"/>
<text x="621.2" y="57.04" font-size="6.5" fill="#ff00ff" font-weight="bold">100kHz</text>
<rect x="399.5" y="24.3" width="246.2" height="198" fill="none" stroke="#2b2b2b" stroke-width="1.2"/>
<line x1="399.5" y1="222.3" x2="399.5" y2="225.9" stroke="#2b2b2b" stroke-width="1"/>
<line x1="399.5" y1="24.3" x2="399.5" y2="27.9" stroke="#2b2b2b" stroke-width="1"/>
<line x1="440.53" y1="222.3" x2="440.53" y2="225.9" stroke="#2b2b2b" stroke-width="1"/>
<line x1="440.53" y1="24.3" x2="440.53" y2="27.9" stroke="#2b2b2b" stroke-width="1"/>
<line x1="481.57" y1="222.3" x2="481.57" y2="225.9" stroke="#2b2b2b" stroke-width="1"/>
<line x1="481.57" y1="24.3" x2="481.57" y2="27.9" stroke="#2b2b2b" stroke-width="1"/>
<line x1="522.6" y1="222.3" x2="522.6" y2="225.9" stroke="#2b2b2b" stroke-width="1"/>
<line x1="522.6" y1="24.3" x2="522.6" y2="27.9" stroke="#2b2b2b" stroke-width="1"/>
<line x1="563.63" y1="222.3" x2="563.63" y2="225.9" stroke="#2b2b2b" stroke-width="1"/>
<line x1="563.63" y1="24.3" x2="563.63" y2="27.9" stroke="#2b2b2b" stroke-width="1"/>
<line x1="604.67" y1="222.3" x2="604.67" y2="225.9" stroke="#2b2b2b" stroke-width="1"/>
<line x1="604.67" y1="24.3" x2="604.67" y2="27.9" stroke="#2b2b2b" stroke-width="1"/>
<line x1="645.7" y1="222.3" x2="645.7" y2="225.9" stroke="#2b2b2b" stroke-width="1"/>
<line x1="645.7" y1="24.3" x2="645.7" y2="27.9" stroke="#2b2b2b" stroke-width="1"/>
<line x1="420.02" y1="222.3" x2="420.02" y2="224.3" stroke="#2b2b2b" stroke-width="1"/>
<line x1="420.02" y1="24.3" x2="420.02" y2="26.3" stroke="#2b2b2b" stroke-width="1"/>
<line x1="461.05" y1="222.3" x2="461.05" y2="224.3" stroke="#2b2b2b" stroke-width="1"/>
<line x1="461.05" y1="24.3" x2="461.05" y2="26.3" stroke="#2b2b2b" stroke-width="1"/>
<line x1="502.08" y1="222.3" x2="502.08" y2="224.3" stroke="#2b2b2b" stroke-width="1"/>
<line x1="502.08" y1="24.3" x2="502.08" y2="26.3" stroke="#2b2b2b" stroke-width="1"/>
<line x1="543.12" y1="222.3" x2="543.12" y2="224.3" stroke="#2b2b2b" stroke-width="1"/>
<line x1="543.12" y1="24.3" x2="543.12" y2="26.3" stroke="#2b2b2b" stroke-width="1"/>
<line x1="584.15" y1="222.3" x2="584.15" y2="224.3" stroke="#2b2b2b" stroke-width="1"/>
<line x1="584.15" y1="24.3" x2="584.15" y2="26.3" stroke="#2b2b2b" stroke-width="1"/>
<line x1="625.18" y1="222.3" x2="625.18" y2="224.3" stroke="#2b2b2b" stroke-width="1"/>
<line x1="625.18" y1="24.3" x2="625.18" y2="26.3" stroke="#2b2b2b" stroke-width="1"/>
<text x="0" y="0" font-size="8.1" fill="#222" font-weight="bold" text-anchor="middle" transform="translate(399.5 235.3) scale(1 1.06)">-100</text>
<text x="0" y="0" font-size="8.1" fill="#222" font-weight="bold" text-anchor="middle" transform="translate(440.53 235.3) scale(1 1.06)">-50</text>
<text x="0" y="0" font-size="8.1" fill="#222" font-weight="bold" text-anchor="middle" transform="translate(481.57 235.3) scale(1 1.06)">0</text>
<text x="0" y="0" font-size="8.1" fill="#222" font-weight="bold" text-anchor="middle" transform="translate(522.6 235.3) scale(1 1.06)">50</text>
<text x="0" y="0" font-size="8.1" fill="#222" font-weight="bold" text-anchor="middle" transform="translate(563.63 235.3) scale(1 1.06)">100</text>
<text x="0" y="0" font-size="8.1" fill="#222" font-weight="bold" text-anchor="middle" transform="translate(604.67 235.3) scale(1 1.06)">150</text>
<text x="0" y="0" font-size="8.1" fill="#222" font-weight="bold" text-anchor="middle" transform="translate(645.7 235.3) scale(1 1.06)">200</text>
<line x1="395.9" y1="222.3" x2="399.5" y2="222.3" stroke="#2b2b2b" stroke-width="1"/>
<line x1="395.9" y1="189.3" x2="399.5" y2="189.3" stroke="#2b2b2b" stroke-width="1"/>
<line x1="395.9" y1="156.3" x2="399.5" y2="156.3" stroke="#2b2b2b" stroke-width="1"/>
<line x1="395.9" y1="123.3" x2="399.5" y2="123.3" stroke="#2b2b2b" stroke-width="1"/>
<line x1="395.9" y1="90.3" x2="399.5" y2="90.3" stroke="#2b2b2b" stroke-width="1"/>
<line x1="395.9" y1="57.3" x2="399.5" y2="57.3" stroke="#2b2b2b" stroke-width="1"/>
<line x1="395.9" y1="24.3" x2="399.5" y2="24.3" stroke="#2b2b2b" stroke-width="1"/>
<line x1="397.5" y1="205.8" x2="399.5" y2="205.8" stroke="#2b2b2b" stroke-width="1"/>
<line x1="397.5" y1="172.8" x2="399.5" y2="172.8" stroke="#2b2b2b" stroke-width="1"/>
<line x1="397.5" y1="139.8" x2="399.5" y2="139.8" stroke="#2b2b2b" stroke-width="1"/>
<line x1="397.5" y1="106.8" x2="399.5" y2="106.8" stroke="#2b2b2b" stroke-width="1"/>
<line x1="397.5" y1="73.8" x2="399.5" y2="73.8" stroke="#2b2b2b" stroke-width="1"/>
<line x1="397.5" y1="40.8" x2="399.5" y2="40.8" stroke="#2b2b2b" stroke-width="1"/>
<text x="0" y="0" font-size="8.1" fill="#222" font-weight="bold" text-anchor="end" transform="translate(393 225.39) scale(1 1.06)">0</text>
<text x="0" y="0" font-size="8.1" fill="#222" font-weight="bold" text-anchor="end" transform="translate(393 192.39) scale(1 1.06)">1000</text>
<text x="0" y="0" font-size="8.1" fill="#222" font-weight="bold" text-anchor="end" transform="translate(393 159.39) scale(1 1.06)">2000</text>
<text x="0" y="0" font-size="8.1" fill="#222" font-weight="bold" text-anchor="end" transform="translate(393 126.39) scale(1 1.06)">3000</text>
<text x="0" y="0" font-size="8.1" fill="#222" font-weight="bold" text-anchor="end" transform="translate(393 93.39) scale(1 1.06)">4000</text>
<text x="0" y="0" font-size="8.1" fill="#222" font-weight="bold" text-anchor="end" transform="translate(393 60.39) scale(1 1.06)">5000</text>
<text x="0" y="0" font-size="8.1" fill="#222" font-weight="bold" text-anchor="end" transform="translate(393 27.39) scale(1 1.06)">6000</text>
<line x1="645.7" y1="207.07" x2="649.3" y2="207.07" stroke="#2b2b2b" stroke-width="1"/>
<line x1="645.7" y1="176.61" x2="649.3" y2="176.61" stroke="#2b2b2b" stroke-width="1"/>
<line x1="645.7" y1="146.15" x2="649.3" y2="146.15" stroke="#2b2b2b" stroke-width="1"/>
<line x1="645.7" y1="115.68" x2="649.3" y2="115.68" stroke="#2b2b2b" stroke-width="1"/>
<line x1="645.7" y1="85.22" x2="649.3" y2="85.22" stroke="#2b2b2b" stroke-width="1"/>
<line x1="645.7" y1="54.76" x2="649.3" y2="54.76" stroke="#2b2b2b" stroke-width="1"/>
<line x1="645.7" y1="24.3" x2="649.3" y2="24.3" stroke="#2b2b2b" stroke-width="1"/>
<line x1="645.7" y1="191.84" x2="647.7" y2="191.84" stroke="#2b2b2b" stroke-width="1"/>
<line x1="645.7" y1="161.38" x2="647.7" y2="161.38" stroke="#2b2b2b" stroke-width="1"/>
<line x1="645.7" y1="130.92" x2="647.7" y2="130.92" stroke="#2b2b2b" stroke-width="1"/>
<line x1="645.7" y1="100.45" x2="647.7" y2="100.45" stroke="#2b2b2b" stroke-width="1"/>
<line x1="645.7" y1="69.99" x2="647.7" y2="69.99" stroke="#2b2b2b" stroke-width="1"/>
<line x1="645.7" y1="39.53" x2="647.7" y2="39.53" stroke="#2b2b2b" stroke-width="1"/>
<text x="0" y="0" font-size="8.4" fill="#0000ff" font-weight="bold" transform="translate(651.7 210.27) scale(1 1.06)">0.0</text>
<text x="0" y="0" font-size="8.4" fill="#0000ff" font-weight="bold" transform="translate(651.7 179.81) scale(1 1.06)">0.5</text>
<text x="0" y="0" font-size="8.4" fill="#0000ff" font-weight="bold" transform="translate(651.7 149.35) scale(1 1.06)">1.0</text>
<text x="0" y="0" font-size="8.4" fill="#0000ff" font-weight="bold" transform="translate(651.7 118.89) scale(1 1.06)">1.5</text>
<text x="0" y="0" font-size="8.4" fill="#0000ff" font-weight="bold" transform="translate(651.7 88.43) scale(1 1.06)">2.0</text>
<text x="0" y="0" font-size="8.4" fill="#0000ff" font-weight="bold" transform="translate(651.7 57.97) scale(1 1.06)">2.5</text>
<text x="0" y="0" font-size="8.4" fill="#0000ff" font-weight="bold" transform="translate(651.7 27.51) scale(1 1.06)">3.0</text>
<text x="397.5" y="12.8" font-size="18" fill="#ff0000" style="font-family:'Liberation Serif', serif">b</text>
<text x="368.5" y="123" font-size="13" fill="#000" font-weight="bold" text-anchor="middle" transform="rotate(-90 368.5 123)">Permittivity (ε)</text>
<text x="679" y="123.6" font-size="13" fill="#0000ff" font-weight="bold" text-anchor="middle" transform="rotate(-90 679 123.6)">tan(δ)</text>
<text x="460.8" y="249.9" font-size="13.1" fill="#0000ff" font-weight="bold" textLength="102.7" lengthAdjust="spacingAndGlyphs">Temperature(<tspan dy="-4.6" font-size="8.5">o</tspan><tspan dy="4.6">C)</tspan></text>
<rect x="43.8" y="262.7" width="252.7" height="203.7" fill="url(#gc)" stroke="none" stroke-width="1"/>
<polyline points="64.61,445.7 66.99,445.7 69.37,445.71 71.75,445.73 74.12,445.74 76.5,445.77 78.88,445.8 81.26,445.83 83.64,445.87 86.02,445.92 88.39,445.97 90.77,446.03 93.15,446.09 95.53,446.16 97.91,446.3 100.29,446.7 102.66,447.25 105.04,447.81 107.42,448.48 109.8,449.26 112.18,449.89 114.56,450.11 116.93,450.14 119.31,450.17 121.69,450.2 124.07,450.23 126.45,450.25 128.83,450.27 131.2,450.29 133.58,450.31 135.96,450.33 138.34,450.34 140.72,450.35 143.1,450.36 145.47,450.37 147.85,450.38 150.23,450.39 152.61,450.39 154.99,450.39 157.37,450.4 159.74,450.4 162.12,450.4 164.5,450.4 166.88,450.4 169.26,450.4 171.64,450.4 174.01,450.4 176.39,450.4 178.77,450.4 181.15,450.4 183.53,450.4 185.91,450.4 188.28,450.4 190.66,450.4 193.04,450.4 195.42,450.4 197.8,450.4 200.18,450.4 202.56,450.4 204.93,450.39 207.31,450.39 209.69,450.39 212.07,450.39 214.45,450.39 216.83,450.39 219.2,450.39 221.58,450.38 223.96,450.38 226.34,450.38 228.72,450.38 231.1,450.38 233.47,450.37 235.85,450.37 238.23,450.37 240.61,450.36 242.99,450.36 245.37,450.36 247.74,450.35 250.12,450.35 252.5,450.34 254.88,450.34 257.26,450.33 259.64,450.33 262.01,450.32 264.39,450.32 266.77,450.31 269.15,450.31" fill="none" stroke="#000" stroke-width="1.2" stroke-linejoin="round" marker-start="url(#m7)" marker-mid="url(#m7)" marker-end="url(#m7)"/>
<polyline points="64.61,445.7 66.99,445.7 69.37,445.71 71.75,445.73 74.12,445.74 76.5,445.77 78.88,445.8 81.26,445.83 83.64,445.87 86.02,445.92 88.39,445.97 90.77,446.03 93.15,446.09 95.53,446.16 97.91,446.3 100.29,446.7 102.66,447.25 105.04,447.81 107.42,448.48 109.8,449.26 112.18,449.89 114.56,450.11 116.93,450.14 119.31,450.17 121.69,450.2 124.07,450.23 126.45,450.25 128.83,450.27 131.2,450.29 133.58,450.31 135.96,450.33 138.34,450.34 140.72,450.35 143.1,450.36 145.47,450.37 147.85,450.38 150.23,450.39 152.61,450.39 154.99,450.39 157.37,450.4 159.74,450.4 162.12,450.4 164.5,450.4 166.88,450.4 169.26,450.4 171.64,450.4 174.01,450.39 176.39,450.39 178.77,450.38 181.15,450.38 183.53,450.37 185.91,450.36 188.28,450.35 190.66,450.34 193.04,450.32 195.42,450.31 197.8,450.29 200.18,450.27 202.56,450.25 204.93,450.23 207.31,450.21 209.69,450.18 212.07,450.15 214.45,450.12 216.83,450.09 219.2,450.05 221.58,450.01 223.96,449.97 226.34,449.93 228.72,449.89 231.1,449.84 233.47,449.79 235.85,449.73 238.23,449.68 240.61,449.62 242.99,449.56 245.37,449.48 247.74,449.01 250.12,448.09 252.5,446.92 254.88,445.74 257.26,444.75 259.64,444.01 262.01,443.31 264.39,442.53 266.77,441.7 269.15,440.81" fill="none" stroke="#ff0000" stroke-width="0.6" stroke-linejoin="round" marker-start="url(#m1)" marker-mid="url(#m1)" marker-end="url(#m1)"/>
<polyline points="64.61,445.1 66.99,445.1 69.37,445.11 71.75,445.13 74.12,445.14 76.5,445.17 78.88,445.2 81.26,445.23 83.64,445.27 86.02,445.32 88.39,445.37 90.77,445.43 93.15,445.49 95.53,445.56 97.91,445.7 100.29,446.1 102.66,446.65 105.04,447.21 107.42,447.88 109.8,448.66 112.18,449.29 114.56,449.51 116.93,449.54 119.31,449.57 121.69,449.6 124.07,449.63 126.45,449.65 128.83,449.67 131.2,449.69 133.58,449.71 135.96,449.73 138.34,449.74 140.72,449.75 143.1,449.76 145.47,449.77 147.85,449.78 150.23,449.79 152.61,449.79 154.99,449.79 157.37,449.8 159.74,449.8 162.12,449.8 164.5,449.8 166.88,449.79 169.26,449.78 171.64,449.75 174.01,449.72 176.39,449.68 178.77,449.63 181.15,449.57 183.53,449.51 185.91,449.45 188.28,449.38 190.66,449.3 193.04,449.22 195.42,449.15 197.8,449.06 200.18,448.98 202.56,448.9 204.93,448.81 207.31,448.73 209.69,448.65 212.07,448.57 214.45,448.49 216.83,448.42 219.2,448.35 221.58,448.29 223.96,448.23 226.34,448.17 228.72,448.12 231.1,448.08 233.47,448.05 235.85,448.02 238.23,448.01 240.61,448 242.99,448 245.37,448 247.74,448 250.12,448 252.5,448 254.88,448 257.26,448 259.64,448 262.01,448 264.39,448 266.77,448 269.15,448" fill="none" stroke="#0000ff" stroke-width="0.6" stroke-linejoin="round" marker-start="url(#m2)" marker-mid="url(#m2)" marker-end="url(#m2)"/>
<polyline points="64.61,445.4 66.99,445.4 69.37,445.41 71.75,445.43 74.12,445.44 76.5,445.47 78.88,445.5 81.26,445.53 83.64,445.57 86.02,445.62 88.39,445.67 90.77,445.73 93.15,445.79 95.53,445.86 97.91,446 100.29,446.4 102.66,446.95 105.04,447.51 107.42,448.18 109.8,448.96 112.18,449.59 114.56,449.81 116.93,449.84 119.31,449.87 121.69,449.9 124.07,449.93 126.45,449.95 128.83,449.97 131.2,449.99 133.58,450.01 135.96,450.03 138.34,450.04 140.72,450.05 143.1,450.06 145.47,450.07 147.85,450.08 150.23,450.09 152.61,450.09 154.99,450.09 157.37,450.1 159.74,450.1 162.12,450.1 164.5,450.1 166.88,450.1 169.26,450.1 171.64,450.1 174.01,450.1 176.39,450.1 178.77,450.1 181.15,450.1 183.53,450.1 185.91,450.1 188.28,450.1 190.66,450.1 193.04,450.1 195.42,450.1 197.8,450.1 200.18,450.1 202.56,450.1 204.93,450.09 207.31,450.09 209.69,450.09 212.07,450.09 214.45,450.09 216.83,450.09 219.2,450.09 221.58,450.08 223.96,450.08 226.34,450.08 228.72,450.08 231.1,450.08 233.47,450.07 235.85,450.07 238.23,450.07 240.61,450.06 242.99,450.06 245.37,450.06 247.74,450.05 250.12,450.05 252.5,450.04 254.88,450.04 257.26,450.03 259.64,450.03 262.01,450.02 264.39,450.02 266.77,450.01 269.15,450.01" fill="none" stroke="#ff00ff" stroke-width="0.6" stroke-linejoin="round" marker-start="url(#m3)" marker-mid="url(#m3)" marker-end="url(#m3)"/>
<polyline points="64.61,364.51 67.58,359.62 70.56,354.33 73.53,348.72 76.5,342.36 79.48,333.85 82.45,326.52 85.42,321.53 88.39,317.1 91.37,312.61 94.34,308.85 97.31,305.96 100.29,304.07 102.66,304.5 105.04,306.27 107.42,310.23 109.8,315.89 112.18,321.94 114.56,328.88 116.93,335.33 119.31,341.3 121.69,346.83 124.07,351.94 126.45,356.63 128.83,360.89 131.2,365.02 133.58,369.35 135.96,373.71 138.34,377.8 140.72,381.61 143.1,385.25 145.47,388.72 147.85,392.06 150.23,395.3 152.61,398.5 154.99,401.49 157.37,404.24 159.74,406.78 162.12,408.98 164.5,410.89 166.88,412.74 169.26,414.63 171.64,416.48 174.01,418.26 176.39,419.99 178.77,421.52 181.15,422.82 183.53,423.98 185.91,425.08 188.28,426.1 190.66,427.09 193.04,428.06 195.42,429.03 197.8,429.98 200.18,430.92 202.56,431.85 204.93,432.78 207.31,433.71 209.69,434.66 212.07,435.6 214.45,436.52 216.83,437.4 219.2,438.2 221.58,438.96 223.96,439.71 226.34,440.42 228.72,441.07 231.1,441.64 233.47,442.13 235.85,442.61 238.23,443.09 240.61,443.53 242.99,443.91 245.37,444.2 247.74,444.37 250.12,444.31 252.5,443.47 254.88,442.39 257.26,441.02 259.64,439.53 262.01,438.2 264.39,436.87 266.77,435.32 269.15,433.57" fill="none" stroke="#000" stroke-width="1.2" stroke-linejoin="round" marker-start="url(#m0)" marker-mid="url(#m0)" marker-end="url(#m0)"/>
<polyline points="64.61,368.98 67.58,364.25 70.56,358.69 73.53,351.92 76.5,344.52 79.48,337.18 82.45,330.4 85.42,325.52 88.39,321.35 91.37,317 94.34,312.63 97.31,309.46 100.29,307.22 102.66,307.24 105.04,308.57 107.42,310.71 109.8,315.18 112.18,320.63 114.56,327.16 116.93,334.81 119.31,341.31 121.69,347.07 124.07,352.23 126.45,356.94 128.83,361.19 131.2,365.32 133.58,369.65 135.96,374.01 138.34,378.1 140.72,381.91 143.1,385.55 145.47,389.02 147.85,392.36 150.23,395.6 152.61,398.8 154.99,401.79 157.37,404.54 159.74,407.08 162.12,409.28 164.5,411.19 166.88,413.04 169.26,414.93 171.64,416.78 174.01,418.56 176.39,420.29 178.77,421.82 181.15,423.12 183.53,424.28 185.91,425.38 188.28,426.4 190.66,427.39 193.04,428.36 195.42,429.33 197.8,430.28 200.18,431.22 202.56,432.15 204.93,433.08 207.31,434.01 209.69,434.96 212.07,435.9 214.45,436.82 216.83,437.7 219.2,438.5 221.58,439.26 223.96,440 226.34,440.7 228.72,441.35 231.1,441.93 233.47,442.44 235.85,442.96 238.23,443.47 240.61,443.92 242.99,444.28 245.37,444.47 247.74,444.5 250.12,444.5 252.5,444.5 254.88,444.5 257.26,444.37 259.64,444.05 262.01,443.66 264.39,443.28 266.77,442.86 269.15,442.39" fill="none" stroke="#ff0000" stroke-width="1.2" stroke-linejoin="round" marker-start="url(#m4)" marker-mid="url(#m4)" marker-end="url(#m4)"/>
<polyline points="64.61,380.32 67.58,375.47 70.56,370.12 73.53,364 76.5,357.46 79.48,351.25 82.45,345.34 85.42,339.68 88.39,334.51 91.37,329.77 94.34,325.41 97.31,321.45 100.29,317.14 103.26,314.56 105.64,315.26 108.02,317.63 110.39,321.13 112.77,326.91 115.15,333 117.53,338.92 119.91,344.18 122.29,349.17 124.66,353.92 127.04,358.39 129.42,362.59 131.8,366.78 134.18,371.15 136.56,375.47 138.93,379.47 141.31,383.24 143.69,386.83 146.07,390.27 148.45,393.57 150.83,396.81 153.2,399.97 155.58,402.89 157.96,405.6 160.34,408.07 162.72,410.18 165.1,412.05 167.47,413.92 169.85,415.8 172.23,417.63 174.61,419.4 176.99,421.1 179.37,422.56 181.74,423.82 184.12,424.96 186.5,426.04 188.88,427.05 191.26,428.03 193.64,429.01 196.01,429.97 198.39,430.92 200.77,431.86 203.15,432.79 205.53,433.71 207.91,434.65 210.28,435.6 212.66,436.54 215.04,437.45 217.42,438.3 219.8,439.09 222.18,439.85 224.55,440.58 226.93,441.26 229.31,441.9 231.69,442.46 234.07,442.95 236.45,443.36 238.82,443.73 241.2,444.08 243.58,444.43 245.96,444.81 248.34,445.24 250.72,445.72 253.1,446.18 255.47,446.57 257.85,446.91 260.23,447.22 262.61,447.47 264.99,447.66 267.37,447.83 269.74,447.95" fill="none" stroke="#0000ff" stroke-width="1.2" stroke-linejoin="round" marker-start="url(#m5)" marker-mid="url(#m5)" marker-end="url(#m5)"/>
<polyline points="64.61,393.6 67.58,389.68 70.56,385.07 73.53,379.4 76.5,373.07 79.48,367.1 82.45,361.68 85.42,356.42 88.39,351.12 91.37,345.58 94.34,340.15 97.31,335.3 100.29,330.91 103.26,327.17 106.23,324.17 108.61,325.43 110.99,328.88 113.37,333.3 115.75,338.38 118.12,342.87 120.5,346.37 122.88,350.63 125.26,355.37 127.64,359.73 130.02,363.92 132.39,368.16 134.77,372.55 137.15,376.81 139.53,380.73 141.91,384.45 144.29,388.01 146.66,391.41 149.04,394.69 151.42,397.92 153.8,401.03 156.18,403.88 158.56,406.55 160.93,408.93 163.31,410.96 165.69,412.81 168.07,414.69 170.45,416.56 172.83,418.37 175.2,420.14 177.58,421.79 179.96,423.19 182.34,424.41 184.72,425.54 187.1,426.6 189.47,427.6 191.85,428.57 194.23,429.55 196.61,430.51 198.99,431.45 201.37,432.39 203.74,433.32 206.12,434.24 208.5,435.18 210.88,436.13 213.26,437.07 215.64,437.97 218.01,438.81 220.39,439.58 222.77,440.33 225.15,441.05 227.53,441.73 229.91,442.35 232.28,442.89 234.66,443.36 237.04,443.77 239.42,444.15 241.8,444.5 244.18,444.85 246.55,445.21 248.93,445.58 251.31,445.96 253.69,446.31 256.07,446.65 258.45,446.98 260.82,447.28 263.2,447.52 265.58,447.7 267.96,447.86 270.34,447.98" fill="none" stroke="#ff00ff" stroke-width="1.2" stroke-linejoin="round" marker-start="url(#m6)" marker-mid="url(#m6)" marker-end="url(#m6)"/>
<line x1="101.8" y1="334.1" x2="62" y2="334.1" stroke="#ff0000" stroke-width="1.5"/>
<polygon points="54.5,334.1 63,331.5 63,336.7" fill="#ff0000"/>
<line x1="70.3" y1="441.9" x2="128.5" y2="441.9" stroke="#0000ff" stroke-width="1.5"/>
<polygon points="136,441.9 127.5,444.5 127.5,439.3" fill="#0000ff"/>
<text x="46.8" y="278.6" font-size="13.7" fill="#ff0000" font-weight="bold">Nd=0.05</text>
<rect x="253.3" y="262.7" width="42.4" height="35.7" fill="#fff" stroke="#555" stroke-width="0.8"/>
<line x1="253.8" y1="268.3" x2="269.6" y2="268.3" stroke="#000" stroke-width="1.7"/>
<rect x="260.1" y="266.7" width="3.2" height="3.2" fill="#000" stroke="none" stroke-width="1"/>
<text x="270.7" y="270.78" font-size="6.9" fill="#000" font-weight="bold">500Hz</text>
<line x1="253.8" y1="276.8" x2="269.6" y2="276.8" stroke="#ff0000" stroke-width="1.7"/>
<rect x="260.1" y="275.2" width="3.2" height="3.2" fill="#ff0000" stroke="none" stroke-width="1"/>
<text x="270.7" y="279.28" font-size="6.9" fill="#ff0000" font-weight="bold">1kHz</text>
<line x1="253.8" y1="285.3" x2="269.6" y2="285.3" stroke="#0000ff" stroke-width="1.7"/>
<rect x="260.1" y="283.7" width="3.2" height="3.2" fill="#0000ff" stroke="none" stroke-width="1"/>
<text x="270.7" y="287.78" font-size="6.9" fill="#0000ff" font-weight="bold">10kHz</text>
<line x1="253.8" y1="293.8" x2="269.6" y2="293.8" stroke="#ff00ff" stroke-width="1.7"/>
<rect x="260.1" y="292.2" width="3.2" height="3.2" fill="#ff00ff" stroke="none" stroke-width="1"/>
<text x="270.7" y="296.28" font-size="6.9" fill="#ff00ff" font-weight="bold">100kHz</text>
<rect x="43.8" y="262.7" width="252.7" height="203.7" fill="none" stroke="#2b2b2b" stroke-width="1.2"/>
<line x1="58.66" y1="466.4" x2="58.66" y2="470" stroke="#2b2b2b" stroke-width="1"/>
<line x1="58.66" y1="262.7" x2="58.66" y2="266.3" stroke="#2b2b2b" stroke-width="1"/>
<line x1="88.39" y1="466.4" x2="88.39" y2="470" stroke="#2b2b2b" stroke-width="1"/>
<line x1="88.39" y1="262.7" x2="88.39" y2="266.3" stroke="#2b2b2b" stroke-width="1"/>
<line x1="118.12" y1="466.4" x2="118.12" y2="470" stroke="#2b2b2b" stroke-width="1"/>
<line x1="118.12" y1="262.7" x2="118.12" y2="266.3" stroke="#2b2b2b" stroke-width="1"/>
<line x1="147.85" y1="466.4" x2="147.85" y2="470" stroke="#2b2b2b" stroke-width="1"/>
<line x1="147.85" y1="262.7" x2="147.85" y2="266.3" stroke="#2b2b2b" stroke-width="1"/>
<line x1="177.58" y1="466.4" x2="177.58" y2="470" stroke="#2b2b2b" stroke-width="1"/>
<line x1="177.58" y1="262.7" x2="177.58" y2="266.3" stroke="#2b2b2b" stroke-width="1"/>
<line x1="207.31" y1="466.4" x2="207.31" y2="470" stroke="#2b2b2b" stroke-width="1"/>
<line x1="207.31" y1="262.7" x2="207.31" y2="266.3" stroke="#2b2b2b" stroke-width="1"/>
<line x1="237.04" y1="466.4" x2="237.04" y2="470" stroke="#2b2b2b" stroke-width="1"/>
<line x1="237.04" y1="262.7" x2="237.04" y2="266.3" stroke="#2b2b2b" stroke-width="1"/>
<line x1="266.77" y1="466.4" x2="266.77" y2="470" stroke="#2b2b2b" stroke-width="1"/>
<line x1="266.77" y1="262.7" x2="266.77" y2="266.3" stroke="#2b2b2b" stroke-width="1"/>
<line x1="296.5" y1="466.4" x2="296.5" y2="470" stroke="#2b2b2b" stroke-width="1"/>
<line x1="296.5" y1="262.7" x2="296.5" y2="266.3" stroke="#2b2b2b" stroke-width="1"/>
<line x1="43.8" y1="466.4" x2="43.8" y2="468.4" stroke="#2b2b2b" stroke-width="1"/>
<line x1="43.8" y1="262.7" x2="43.8" y2="264.7" stroke="#2b2b2b" stroke-width="1"/>
<line x1="73.53" y1="466.4" x2="73.53" y2="468.4" stroke="#2b2b2b" stroke-width="1"/>
<line x1="73.53" y1="262.7" x2="73.53" y2="264.7" stroke="#2b2b2b" stroke-width="1"/>
<line x1="103.26" y1="466.4" x2="103.26" y2="468.4" stroke="#2b2b2b" stroke-width="1"/>
<line x1="103.26" y1="262.7" x2="103.26" y2="264.7" stroke="#2b2b2b" stroke-width="1"/>
<line x1="132.99" y1="466.4" x2="132.99" y2="468.4" stroke="#2b2b2b" stroke-width="1"/>
<line x1="132.99" y1="262.7" x2="132.99" y2="264.7" stroke="#2b2b2b" stroke-width="1"/>
<line x1="162.72" y1="466.4" x2="162.72" y2="468.4" stroke="#2b2b2b" stroke-width="1"/>
<line x1="162.72" y1="262.7" x2="162.72" y2="264.7" stroke="#2b2b2b" stroke-width="1"/>
<line x1="192.45" y1="466.4" x2="192.45" y2="468.4" stroke="#2b2b2b" stroke-width="1"/>
<line x1="192.45" y1="262.7" x2="192.45" y2="264.7" stroke="#2b2b2b" stroke-width="1"/>
<line x1="222.18" y1="466.4" x2="222.18" y2="468.4" stroke="#2b2b2b" stroke-width="1"/>
<line x1="222.18" y1="262.7" x2="222.18" y2="264.7" stroke="#2b2b2b" stroke-width="1"/>
<line x1="251.91" y1="466.4" x2="251.91" y2="468.4" stroke="#2b2b2b" stroke-width="1"/>
<line x1="251.91" y1="262.7" x2="251.91" y2="264.7" stroke="#2b2b2b" stroke-width="1"/>
<line x1="281.64" y1="466.4" x2="281.64" y2="468.4" stroke="#2b2b2b" stroke-width="1"/>
<line x1="281.64" y1="262.7" x2="281.64" y2="264.7" stroke="#2b2b2b" stroke-width="1"/>
<text x="0" y="0" font-size="8.1" fill="#222" font-weight="bold" text-anchor="middle" transform="translate(58.66 480.1) scale(1 1.06)">-100</text>
<text x="0" y="0" font-size="8.1" fill="#222" font-weight="bold" text-anchor="middle" transform="translate(88.39 480.1) scale(1 1.06)">-50</text>
<text x="0" y="0" font-size="8.1" fill="#222" font-weight="bold" text-anchor="middle" transform="translate(118.12 480.1) scale(1 1.06)">0</text>
<text x="0" y="0" font-size="8.1" fill="#222" font-weight="bold" text-anchor="middle" transform="translate(147.85 480.1) scale(1 1.06)">50</text>
<text x="0" y="0" font-size="8.1" fill="#222" font-weight="bold" text-anchor="middle" transform="translate(177.58 480.1) scale(1 1.06)">100</text>
<text x="0" y="0" font-size="8.1" fill="#222" font-weight="bold" text-anchor="middle" transform="translate(207.31 480.1) scale(1 1.06)">150</text>
<text x="0" y="0" font-size="8.1" fill="#222" font-weight="bold" text-anchor="middle" transform="translate(237.04 480.1) scale(1 1.06)">200</text>
<text x="0" y="0" font-size="8.1" fill="#222" font-weight="bold" text-anchor="middle" transform="translate(266.77 480.1) scale(1 1.06)">250</text>
<text x="0" y="0" font-size="8.1" fill="#222" font-weight="bold" text-anchor="middle" transform="translate(296.5 480.1) scale(1 1.06)">300</text>
<line x1="40.2" y1="466.4" x2="43.8" y2="466.4" stroke="#2b2b2b" stroke-width="1"/>
<line x1="40.2" y1="432.45" x2="43.8" y2="432.45" stroke="#2b2b2b" stroke-width="1"/>
<line x1="40.2" y1="398.5" x2="43.8" y2="398.5" stroke="#2b2b2b" stroke-width="1"/>
<line x1="40.2" y1="364.55" x2="43.8" y2="364.55" stroke="#2b2b2b" stroke-width="1"/>
<line x1="40.2" y1="330.6" x2="43.8" y2="330.6" stroke="#2b2b2b" stroke-width="1"/>
<line x1="40.2" y1="296.65" x2="43.8" y2="296.65" stroke="#2b2b2b" stroke-width="1"/>
<line x1="40.2" y1="262.7" x2="43.8" y2="262.7" stroke="#2b2b2b" stroke-width="1"/>
<line x1="41.8" y1="449.42" x2="43.8" y2="449.42" stroke="#2b2b2b" stroke-width="1"/>
<line x1="41.8" y1="415.47" x2="43.8" y2="415.47" stroke="#2b2b2b" stroke-width="1"/>
<line x1="41.8" y1="381.52" x2="43.8" y2="381.52" stroke="#2b2b2b" stroke-width="1"/>
<line x1="41.8" y1="347.57" x2="43.8" y2="347.57" stroke="#2b2b2b" stroke-width="1"/>
<line x1="41.8" y1="313.62" x2="43.8" y2="313.62" stroke="#2b2b2b" stroke-width="1"/>
<line x1="41.8" y1="279.67" x2="43.8" y2="279.67" stroke="#2b2b2b" stroke-width="1"/>
<text x="0" y="0" font-size="8.1" fill="#222" font-weight="bold" text-anchor="end" transform="translate(36.6 469.49) scale(1 1.06)">0</text>
<text x="0" y="0" font-size="8.1" fill="#222" font-weight="bold" text-anchor="end" transform="translate(36.6 435.54) scale(1 1.06)">1000</text>
<text x="0" y="0" font-size="8.1" fill="#222" font-weight="bold" text-anchor="end" transform="translate(36.6 401.59) scale(1 1.06)">2000</text>
<text x="0" y="0" font-size="8.1" fill="#222" font-weight="bold" text-anchor="end" transform="translate(36.6 367.64) scale(1 1.06)">3000</text>
<text x="0" y="0" font-size="8.1" fill="#222" font-weight="bold" text-anchor="end" transform="translate(36.6 333.69) scale(1 1.06)">4000</text>
<text x="0" y="0" font-size="8.1" fill="#222" font-weight="bold" text-anchor="end" transform="translate(36.6 299.74) scale(1 1.06)">5000</text>
<text x="0" y="0" font-size="8.1" fill="#222" font-weight="bold" text-anchor="end" transform="translate(36.6 265.79) scale(1 1.06)">6000</text>
<line x1="296.5" y1="450.73" x2="300.1" y2="450.73" stroke="#2b2b2b" stroke-width="1"/>
<line x1="296.5" y1="419.39" x2="300.1" y2="419.39" stroke="#2b2b2b" stroke-width="1"/>
<line x1="296.5" y1="388.05" x2="300.1" y2="388.05" stroke="#2b2b2b" stroke-width="1"/>
<line x1="296.5" y1="356.72" x2="300.1" y2="356.72" stroke="#2b2b2b" stroke-width="1"/>
<line x1="296.5" y1="325.38" x2="300.1" y2="325.38" stroke="#2b2b2b" stroke-width="1"/>
<line x1="296.5" y1="294.04" x2="300.1" y2="294.04" stroke="#2b2b2b" stroke-width="1"/>
<line x1="296.5" y1="262.7" x2="300.1" y2="262.7" stroke="#2b2b2b" stroke-width="1"/>
<line x1="296.5" y1="435.06" x2="298.5" y2="435.06" stroke="#2b2b2b" stroke-width="1"/>
<line x1="296.5" y1="403.72" x2="298.5" y2="403.72" stroke="#2b2b2b" stroke-width="1"/>
<line x1="296.5" y1="372.38" x2="298.5" y2="372.38" stroke="#2b2b2b" stroke-width="1"/>
<line x1="296.5" y1="341.05" x2="298.5" y2="341.05" stroke="#2b2b2b" stroke-width="1"/>
<line x1="296.5" y1="309.71" x2="298.5" y2="309.71" stroke="#2b2b2b" stroke-width="1"/>
<line x1="296.5" y1="278.37" x2="298.5" y2="278.37" stroke="#2b2b2b" stroke-width="1"/>
<text x="0" y="0" font-size="8.4" fill="#0000ff" font-weight="bold" transform="translate(302.5 453.94) scale(1 1.06)">0.0</text>
<text x="0" y="0" font-size="8.4" fill="#0000ff" font-weight="bold" transform="translate(302.5 422.6) scale(1 1.06)">0.5</text>
<text x="0" y="0" font-size="8.4" fill="#0000ff" font-weight="bold" transform="translate(302.5 391.26) scale(1 1.06)">1.0</text>
<text x="0" y="0" font-size="8.4" fill="#0000ff" font-weight="bold" transform="translate(302.5 359.92) scale(1 1.06)">1.5</text>
<text x="0" y="0" font-size="8.4" fill="#0000ff" font-weight="bold" transform="translate(302.5 328.58) scale(1 1.06)">2.0</text>
<text x="0" y="0" font-size="8.4" fill="#0000ff" font-weight="bold" transform="translate(302.5 297.24) scale(1 1.06)">2.5</text>
<text x="0" y="0" font-size="8.4" fill="#0000ff" font-weight="bold" transform="translate(302.5 265.91) scale(1 1.06)">3.0</text>
<text x="45.5" y="256.6" font-size="18" fill="#ff0000" style="font-family:'Liberation Serif', serif">c</text>
<text x="15" y="363" font-size="13" fill="#000" font-weight="bold" text-anchor="middle" transform="rotate(-90 15 363)">Permittivity (ε)</text>
<text x="330.6" y="363.4" font-size="13" fill="#0000ff" font-weight="bold" text-anchor="middle" transform="rotate(-90 330.6 363.4)">tan(δ)</text>
<text x="106.7" y="494.9" font-size="13.1" fill="#0000ff" font-weight="bold" textLength="105.5" lengthAdjust="spacingAndGlyphs">Temperature(<tspan dy="-4.6" font-size="8.5">o</tspan><tspan dy="4.6">C)</tspan></text>
<rect x="396.4" y="263.7" width="252" height="202.7" fill="url(#gd)" stroke="none" stroke-width="1"/>
<polyline points="409.8,444.51 412.49,444.77 415.17,445.03 417.85,445.28 420.53,445.52 423.21,445.75 425.89,445.97 428.57,446.19 431.25,446.4 433.93,446.59 436.61,446.78 439.29,446.96 441.97,447.13 444.66,447.3 447.34,447.49 450.02,447.67 452.7,447.84 455.38,448.01 458.06,448.15 460.74,448.28 463.42,448.39 466.1,448.46 468.78,448.5 471.46,448.5 474.14,448.48 476.83,448.45 479.51,448.42 482.19,448.37 484.87,448.32 487.55,448.26 490.23,448.2 492.91,448.14 495.59,448.08 498.27,448.03 500.95,447.98 503.63,447.94 506.31,447.9 509,447.86 511.68,447.81 514.36,447.77 517.04,447.73 519.72,447.69 522.4,447.65 525.08,447.61 527.76,447.57 530.44,447.53 533.12,447.49 535.8,447.44 538.49,447.4 541.17,447.35 543.85,447.31 546.53,447.26 549.21,447.21 551.89,447.16 554.57,447.11 557.25,447.06 559.93,447 562.61,446.95 565.29,446.89 567.97,446.84 570.66,446.79 573.34,446.74 576.02,446.69 578.7,446.62 581.38,446.56 584.06,446.48 586.74,446.4 589.42,446.3 592.1,446.19 594.78,446.06 597.46,445.88 600.14,445.52 602.83,445.13 605.51,444.86 608.19,444.61 610.87,444.37 613.55,444.14 616.23,443.92 618.91,443.72 621.59,443.53 624.27,443.37 626.95,443.23 629.63,443.11 632.31,443.02" fill="none" stroke="#000" stroke-width="1.2" stroke-linejoin="round" marker-start="url(#m0)" marker-mid="url(#m0)" marker-end="url(#m0)"/>
<polyline points="618.1,442 620.4,433.7 622.8,427 625.2,417.4 627.9,392.2 628.8,382.6 630.8,395.6 632.8,374.8" fill="none" stroke="#ff0000" stroke-width="1.4" stroke-linejoin="round"/>
<polyline points="409.8,444.01 412.49,444.23 415.17,444.45 417.85,444.67 420.53,444.89 423.21,445.11 425.89,445.33 428.57,445.55 431.25,445.78 433.93,446 436.61,446.22 439.29,446.44 441.97,446.67 444.66,446.9 447.34,447.14 450.02,447.38 452.7,447.62 455.38,447.86 458.06,448.09 460.74,448.32 463.42,448.53 466.1,448.74 468.78,448.92 471.46,449.09 474.14,449.27 476.83,449.45 479.51,449.63 482.19,449.81 484.87,449.98 487.55,450.13 490.23,450.26 492.91,450.37 495.59,450.45 498.27,450.49 500.95,450.5 503.63,450.5 506.31,450.5 509,450.5 511.68,450.5 514.36,450.5 517.04,450.5 519.72,450.5 522.4,450.5 525.08,450.5 527.76,450.5 530.44,450.5 533.12,450.5 535.8,450.5 538.49,450.5 541.17,450.5 543.85,450.5 546.53,450.5 549.21,450.5 551.89,450.5 554.57,450.5 557.25,450.5 559.93,450.5 562.61,450.5 565.29,450.5 567.97,450.5 570.66,450.5 573.34,450.5 576.02,450.5 578.7,450.5 581.38,450.5 584.06,450.5 586.74,450.5 589.42,450.5 592.1,450.5 597.4,445 602,444.8 606.7,444.4 612,443.5 618.1,442 620.4,433.7 622.8,427 625.2,417.4 627.9,392.2 628.8,382.6 630.8,395.6 632.8,374.8" fill="none" stroke="#ff0000" stroke-width="0.6" stroke-linejoin="round" marker-start="url(#m1)" marker-mid="url(#m1)" marker-end="url(#m1)"/>
<polyline points="409.8,443.71 412.49,443.93 415.17,444.15 417.85,444.37 420.53,444.59 423.21,444.81 425.89,445.03 428.57,445.25 431.25,445.48 433.93,445.7 436.61,445.92 439.29,446.14 441.97,446.37 444.66,446.6 447.34,446.84 450.02,447.08 452.7,447.32 455.38,447.56 458.06,447.79 460.74,448.02 463.42,448.23 466.1,448.44 468.78,448.62 471.46,448.79 474.14,448.97 476.83,449.15 479.51,449.33 482.19,449.51 484.87,449.68 487.55,449.83 490.23,449.96 492.91,450.07 495.59,450.15 498.27,450.19 500.95,450.2 503.63,450.2 506.31,450.2 509,450.2 511.68,450.19 514.36,450.19 517.04,450.19 519.72,450.18 522.4,450.17 525.08,450.17 527.76,450.16 530.44,450.15 533.12,450.14 535.8,450.13 538.49,450.12 541.17,450.11 543.85,450.09 546.53,450.08 549.21,450.06 551.89,450.04 554.57,450.03 557.25,450.01 559.93,449.99 562.61,449.96 565.29,449.94 567.97,449.91 570.66,449.89 573.34,449.86 576.02,449.83 578.7,449.8 581.38,449.77 584.06,449.73 586.74,449.7 589.42,449.66 592.1,449.62 594.78,449.58 597.46,449.54 600.14,449.5 602.83,449.41 605.51,449.24 608.19,448.98 610.87,448.66 613.55,448.26 616.23,447.78 618.91,447.24 621.59,446.36 624.27,444.53 626.95,442.81 629.63,442.07 632.31,441.71" fill="none" stroke="#0000ff" stroke-width="0.6" stroke-linejoin="round" marker-start="url(#m2)" marker-mid="url(#m2)" marker-end="url(#m2)"/>
<polyline points="409.8,443.51 412.49,443.73 415.17,443.95 417.85,444.17 420.53,444.39 423.21,444.61 425.89,444.83 428.57,445.05 431.25,445.28 433.93,445.5 436.61,445.72 439.29,445.94 441.97,446.17 444.66,446.4 447.34,446.64 450.02,446.88 452.7,447.12 455.38,447.36 458.06,447.59 460.74,447.82 463.42,448.03 466.1,448.24 468.78,448.42 471.46,448.59 474.14,448.77 476.83,448.95 479.51,449.13 482.19,449.31 484.87,449.48 487.55,449.63 490.23,449.76 492.91,449.87 495.59,449.95 498.27,449.99 500.95,450 503.63,450 506.31,450 509,450 511.68,450 514.36,450 517.04,450 519.72,450 522.4,450 525.08,450 527.76,450 530.44,450 533.12,450 535.8,450 538.49,450 541.17,450 543.85,450 546.53,450 549.21,450 551.89,450 554.57,450 557.25,450 559.93,450 562.61,450 565.29,450 567.97,450 570.66,450 573.34,450 576.02,450 578.7,450 581.38,450 584.06,450 586.74,450 589.42,450 592.1,450 594.78,450 597.46,450 600.14,450 602.83,450 605.51,450 608.19,450 610.87,450 613.55,450 616.23,450 618.91,450 621.59,450 624.27,450 626.95,450 629.63,450 632.31,450" fill="none" stroke="#ff00ff" stroke-width="0.6" stroke-linejoin="round" marker-start="url(#m3)" marker-mid="url(#m3)" marker-end="url(#m3)"/>
<polyline points="409.8,369.76 413.16,365.16 416.51,360.67 419.86,356.37 423.21,352.34 426.56,348.96 429.91,346.12 433.26,344.06 436.61,342.36 439.96,341.37 443.31,340.91 446,340.71 448.68,340.88 451.36,341.58 454.04,342.48 456.72,343.64 459.4,345.15 462.08,346.86 464.76,348.71 467.44,350.82 470.12,353.14 472.8,355.6 475.49,358.17 478.17,361 480.85,364.05 483.53,367.2 486.21,370.32 488.89,373.29 491.57,376.09 494.25,378.83 496.93,381.51 499.61,384.15 502.29,386.77 504.97,389.41 507.66,392.03 510.34,394.57 513.02,396.97 515.7,399.16 518.38,401.04 521.06,403.09 523.74,405.55 526.42,408.14 529.1,410.56 531.78,412.58 534.46,414.44 537.14,416.21 539.83,417.88 542.51,419.46 545.19,420.95 547.87,422.35 550.55,423.68 553.23,424.93 555.91,426.11 558.59,427.23 561.27,428.3 563.95,429.32 566.63,430.3 569.31,431.25 572,432.19 574.68,433.21 577.36,434.29 580.04,435.34 582.72,436.3 585.4,437.1 588.08,437.65 590.76,437.89 593.44,437.35 597.4,441 600.5,441.5 604.1,441.7 608,440.5 612.1,439 615,437.8 618.1,436.4 620.1,422.3 622.5,411.6 624.5,401.6 628.1,345.4 628.8,335.4 630.8,352.1 632.8,327.4" fill="none" stroke="#000" stroke-width="1.2" stroke-linejoin="round" marker-start="url(#m0)" marker-mid="url(#m0)" marker-end="url(#m0)"/>
<polyline points="409.8,373.25 413.16,368.66 416.51,364.3 419.86,360.16 423.21,356.2 426.56,352.43 429.91,349.28 433.26,346.47 436.61,344.27 439.96,343.1 443.31,342.26 446,341.92 448.68,342.06 451.36,342.71 454.04,343.64 456.72,344.63 459.4,345.91 462.08,347.47 464.76,349.21 467.44,351.24 470.12,353.57 472.8,356.08 475.49,358.67 478.17,361.48 480.85,364.49 483.53,367.59 486.21,370.66 488.89,373.59 491.57,376.38 494.25,379.12 496.93,381.81 499.61,384.45 502.29,387.07 504.97,389.71 507.66,392.33 510.34,394.87 513.02,397.27 515.7,399.46 518.38,401.34 521.06,403.39 523.74,405.85 526.42,408.44 529.1,410.86 531.78,412.88 534.46,414.74 537.14,416.51 539.83,418.18 542.51,419.76 545.19,421.25 547.87,422.65 550.55,423.98 553.23,425.23 555.91,426.41 558.59,427.53 561.27,428.6 563.95,429.62 566.63,430.6 569.31,431.55 572,432.48 574.68,433.38 577.36,434.28 580.04,435.14 582.72,435.96 585.4,436.74 588.08,437.45 590.76,438.1 593.44,438.69 596.12,439.25 598.8,439.76 601.49,440.23 604.17,440.66 606.85,441.02 609.53,441.34 612.21,441.63 614.89,441.89 617.57,442.11 620.25,442.31 622.93,442.49 625.61,442.65 628.29,442.79 630.97,442.91" fill="none" stroke="#ff0000" stroke-width="1.2" stroke-linejoin="round" marker-start="url(#m4)" marker-mid="url(#m4)" marker-end="url(#m4)"/>
<polyline points="409.8,384.37 413.16,380.05 416.51,375.68 419.86,371.31 423.21,367.05 426.56,362.7 429.91,358.77 433.26,355.71 436.61,353.14 439.96,351.11 443.31,349.32 446.67,347.96 450.02,347.7 452.7,347.7 455.38,347.7 458.06,348.25 460.74,349.64 463.42,351.15 466.1,352.85 468.78,354.82 471.46,356.98 474.14,359.24 476.83,361.61 479.51,364.22 482.19,366.98 484.87,369.81 487.55,372.62 490.23,375.34 492.91,378.08 495.59,380.81 498.27,383.51 500.95,386.16 503.63,388.78 506.31,391.42 509,394.01 511.68,396.49 514.36,398.8 517.04,400.82 519.72,402.7 522.4,404.99 525.08,407.55 527.76,410.09 530.44,412.31 533.12,414.22 535.8,416.04 538.49,417.76 541.17,419.38 543.85,420.91 546.53,422.36 549.21,423.72 551.89,425.01 554.57,426.23 557.25,427.38 559.93,428.47 562.61,429.52 565.29,430.52 567.97,431.48 570.66,432.42 573.34,433.33 576.02,434.23 578.7,435.11 581.38,435.95 584.06,436.76 586.74,437.5 589.42,438.19 592.1,438.8 594.78,439.37 597.46,439.91 600.14,440.4 602.83,440.85 605.51,441.24 608.19,441.58 610.87,441.89 613.55,442.16 616.23,442.4 618.91,442.62 621.59,442.8 624.27,442.97 626.95,443.12 629.63,443.25 632.31,443.36" fill="none" stroke="#0000ff" stroke-width="1.2" stroke-linejoin="round" marker-start="url(#m5)" marker-mid="url(#m5)" marker-end="url(#m5)"/>
<polyline points="409.8,395.6 413.16,392.17 416.51,388.31 419.86,384.2 423.21,380.26 426.56,376.49 429.91,372.85 433.26,369.3 436.61,365.82 439.96,362.77 443.31,360.07 446.67,357.77 450.02,356.2 453.37,355 456.05,354.71 458.73,354.99 461.41,355.58 464.09,356.57 466.77,358.71 469.45,361.27 472.13,363.44 474.81,365.44 477.5,367.4 480.18,369.39 482.86,371.44 485.54,373.49 488.22,375.58 490.9,377.76 493.58,380.11 496.26,382.72 498.94,385.49 501.62,388.26 504.3,390.88 506.99,393.37 509.67,395.81 512.35,398.18 515.03,400.48 517.71,402.71 520.39,404.89 523.07,407 525.75,409.04 528.43,411 531.11,412.91 533.79,414.75 536.47,416.52 539.16,418.22 541.84,419.87 544.52,421.46 547.2,422.98 549.88,424.45 552.56,425.89 555.24,427.25 557.92,428.46 560.6,429.51 563.28,430.43 565.96,431.29 568.64,432.13 571.33,432.98 574.01,433.82 576.69,434.63 579.37,435.41 582.05,436.15 584.73,436.87 587.41,437.55 590.09,438.2 592.77,438.81 595.45,439.39 598.13,439.95 600.81,440.45 603.5,440.89 606.18,441.31 608.86,441.71 611.54,442.09 614.22,442.43 616.9,442.72 619.58,442.96 622.26,443.15 624.94,443.33 627.62,443.48 630.3,443.61" fill="none" stroke="#ff00ff" stroke-width="1.2" stroke-linejoin="round" marker-start="url(#m6)" marker-mid="url(#m6)" marker-end="url(#m6)"/>
<line x1="495" y1="375.5" x2="463.9" y2="375.5" stroke="#ff0000" stroke-width="1.5"/>
<polygon points="456.4,375.5 464.9,372.9 464.9,378.1" fill="#ff0000"/>
<line x1="610.8" y1="404.3" x2="637.5" y2="404.3" stroke="#0000ff" stroke-width="1.5"/>
<polygon points="645,404.3 636.5,406.9 636.5,401.7" fill="#0000ff"/>
<text x="398.8" y="280.4" font-size="13.7" fill="#ff0000" font-weight="bold">Nd=0.075</text>
<rect x="604.6" y="263.7" width="43.8" height="34.9" fill="#fff" stroke="#555" stroke-width="0.8"/>
<line x1="605.1" y1="269.3" x2="621" y2="269.3" stroke="#000" stroke-width="1.7"/>
<rect x="611.45" y="267.7" width="3.2" height="3.2" fill="#000" stroke="none" stroke-width="1"/>
<text x="622.3" y="271.78" font-size="6.9" fill="#000" font-weight="bold">500Hz</text>
<line x1="605.1" y1="277.8" x2="621" y2="277.8" stroke="#ff0000" stroke-width="1.7"/>
<rect x="611.45" y="276.2" width="3.2" height="3.2" fill="#ff0000" stroke="none" stroke-width="1"/>
<text x="622.3" y="280.28" font-size="6.9" fill="#ff0000" font-weight="bold">1kHz</text>
<line x1="605.1" y1="286.3" x2="621" y2="286.3" stroke="#0000ff" stroke-width="1.7"/>
<rect x="611.45" y="284.7" width="3.2" height="3.2" fill="#0000ff" stroke="none" stroke-width="1"/>
<text x="622.3" y="288.78" font-size="6.9" fill="#0000ff" font-weight="bold">10kHz</text>
<line x1="605.1" y1="294.8" x2="621" y2="294.8" stroke="#ff00ff" stroke-width="1.7"/>
<rect x="611.45" y="293.2" width="3.2" height="3.2" fill="#ff00ff" stroke="none" stroke-width="1"/>
<text x="622.3" y="297.28" font-size="6.9" fill="#ff00ff" font-weight="bold">100kHz</text>
<rect x="396.4" y="263.7" width="252" height="202.7" fill="none" stroke="#2b2b2b" stroke-width="1.2"/>
<line x1="396.4" y1="466.4" x2="396.4" y2="470" stroke="#2b2b2b" stroke-width="1"/>
<line x1="396.4" y1="263.7" x2="396.4" y2="267.3" stroke="#2b2b2b" stroke-width="1"/>
<line x1="429.91" y1="466.4" x2="429.91" y2="470" stroke="#2b2b2b" stroke-width="1"/>
<line x1="429.91" y1="263.7" x2="429.91" y2="267.3" stroke="#2b2b2b" stroke-width="1"/>
<line x1="463.42" y1="466.4" x2="463.42" y2="470" stroke="#2b2b2b" stroke-width="1"/>
<line x1="463.42" y1="263.7" x2="463.42" y2="267.3" stroke="#2b2b2b" stroke-width="1"/>
<line x1="496.93" y1="466.4" x2="496.93" y2="470" stroke="#2b2b2b" stroke-width="1"/>
<line x1="496.93" y1="263.7" x2="496.93" y2="267.3" stroke="#2b2b2b" stroke-width="1"/>
<line x1="530.44" y1="466.4" x2="530.44" y2="470" stroke="#2b2b2b" stroke-width="1"/>
<line x1="530.44" y1="263.7" x2="530.44" y2="267.3" stroke="#2b2b2b" stroke-width="1"/>
<line x1="563.95" y1="466.4" x2="563.95" y2="470" stroke="#2b2b2b" stroke-width="1"/>
<line x1="563.95" y1="263.7" x2="563.95" y2="267.3" stroke="#2b2b2b" stroke-width="1"/>
<line x1="597.46" y1="466.4" x2="597.46" y2="470" stroke="#2b2b2b" stroke-width="1"/>
<line x1="597.46" y1="263.7" x2="597.46" y2="267.3" stroke="#2b2b2b" stroke-width="1"/>
<line x1="630.97" y1="466.4" x2="630.97" y2="470" stroke="#2b2b2b" stroke-width="1"/>
<line x1="630.97" y1="263.7" x2="630.97" y2="267.3" stroke="#2b2b2b" stroke-width="1"/>
<line x1="413.16" y1="466.4" x2="413.16" y2="468.4" stroke="#2b2b2b" stroke-width="1"/>
<line x1="413.16" y1="263.7" x2="413.16" y2="265.7" stroke="#2b2b2b" stroke-width="1"/>
<line x1="446.67" y1="466.4" x2="446.67" y2="468.4" stroke="#2b2b2b" stroke-width="1"/>
<line x1="446.67" y1="263.7" x2="446.67" y2="265.7" stroke="#2b2b2b" stroke-width="1"/>
<line x1="480.18" y1="466.4" x2="480.18" y2="468.4" stroke="#2b2b2b" stroke-width="1"/>
<line x1="480.18" y1="263.7" x2="480.18" y2="265.7" stroke="#2b2b2b" stroke-width="1"/>
<line x1="513.69" y1="466.4" x2="513.69" y2="468.4" stroke="#2b2b2b" stroke-width="1"/>
<line x1="513.69" y1="263.7" x2="513.69" y2="265.7" stroke="#2b2b2b" stroke-width="1"/>
<line x1="547.2" y1="466.4" x2="547.2" y2="468.4" stroke="#2b2b2b" stroke-width="1"/>
<line x1="547.2" y1="263.7" x2="547.2" y2="265.7" stroke="#2b2b2b" stroke-width="1"/>
<line x1="580.71" y1="466.4" x2="580.71" y2="468.4" stroke="#2b2b2b" stroke-width="1"/>
<line x1="580.71" y1="263.7" x2="580.71" y2="265.7" stroke="#2b2b2b" stroke-width="1"/>
<line x1="614.22" y1="466.4" x2="614.22" y2="468.4" stroke="#2b2b2b" stroke-width="1"/>
<line x1="614.22" y1="263.7" x2="614.22" y2="265.7" stroke="#2b2b2b" stroke-width="1"/>
<line x1="647.73" y1="466.4" x2="647.73" y2="468.4" stroke="#2b2b2b" stroke-width="1"/>
<line x1="647.73" y1="263.7" x2="647.73" y2="265.7" stroke="#2b2b2b" stroke-width="1"/>
<text x="0" y="0" font-size="8.1" fill="#222" font-weight="bold" text-anchor="middle" transform="translate(396.4 480.1) scale(1 1.06)">-100</text>
<text x="0" y="0" font-size="8.1" fill="#222" font-weight="bold" text-anchor="middle" transform="translate(429.91 480.1) scale(1 1.06)">-50</text>
<text x="0" y="0" font-size="8.1" fill="#222" font-weight="bold" text-anchor="middle" transform="translate(463.42 480.1) scale(1 1.06)">0</text>
<text x="0" y="0" font-size="8.1" fill="#222" font-weight="bold" text-anchor="middle" transform="translate(496.93 480.1) scale(1 1.06)">50</text>
<text x="0" y="0" font-size="8.1" fill="#222" font-weight="bold" text-anchor="middle" transform="translate(530.44 480.1) scale(1 1.06)">100</text>
<text x="0" y="0" font-size="8.1" fill="#222" font-weight="bold" text-anchor="middle" transform="translate(563.95 480.1) scale(1 1.06)">150</text>
<text x="0" y="0" font-size="8.1" fill="#222" font-weight="bold" text-anchor="middle" transform="translate(597.46 480.1) scale(1 1.06)">200</text>
<text x="0" y="0" font-size="8.1" fill="#222" font-weight="bold" text-anchor="middle" transform="translate(630.97 480.1) scale(1 1.06)">250</text>
<line x1="392.8" y1="466.4" x2="396.4" y2="466.4" stroke="#2b2b2b" stroke-width="1"/>
<line x1="392.8" y1="432.62" x2="396.4" y2="432.62" stroke="#2b2b2b" stroke-width="1"/>
<line x1="392.8" y1="398.83" x2="396.4" y2="398.83" stroke="#2b2b2b" stroke-width="1"/>
<line x1="392.8" y1="365.05" x2="396.4" y2="365.05" stroke="#2b2b2b" stroke-width="1"/>
<line x1="392.8" y1="331.27" x2="396.4" y2="331.27" stroke="#2b2b2b" stroke-width="1"/>
<line x1="392.8" y1="297.48" x2="396.4" y2="297.48" stroke="#2b2b2b" stroke-width="1"/>
<line x1="392.8" y1="263.7" x2="396.4" y2="263.7" stroke="#2b2b2b" stroke-width="1"/>
<line x1="394.4" y1="449.51" x2="396.4" y2="449.51" stroke="#2b2b2b" stroke-width="1"/>
<line x1="394.4" y1="415.72" x2="396.4" y2="415.72" stroke="#2b2b2b" stroke-width="1"/>
<line x1="394.4" y1="381.94" x2="396.4" y2="381.94" stroke="#2b2b2b" stroke-width="1"/>
<line x1="394.4" y1="348.16" x2="396.4" y2="348.16" stroke="#2b2b2b" stroke-width="1"/>
<line x1="394.4" y1="314.38" x2="396.4" y2="314.38" stroke="#2b2b2b" stroke-width="1"/>
<line x1="394.4" y1="280.59" x2="396.4" y2="280.59" stroke="#2b2b2b" stroke-width="1"/>
<text x="0" y="0" font-size="8.1" fill="#222" font-weight="bold" text-anchor="end" transform="translate(389 469.49) scale(1 1.06)">0</text>
<text x="0" y="0" font-size="8.1" fill="#222" font-weight="bold" text-anchor="end" transform="translate(389 435.71) scale(1 1.06)">1000</text>
<text x="0" y="0" font-size="8.1" fill="#222" font-weight="bold" text-anchor="end" transform="translate(389 401.92) scale(1 1.06)">2000</text>
<text x="0" y="0" font-size="8.1" fill="#222" font-weight="bold" text-anchor="end" transform="translate(389 368.14) scale(1 1.06)">3000</text>
<text x="0" y="0" font-size="8.1" fill="#222" font-weight="bold" text-anchor="end" transform="translate(389 334.36) scale(1 1.06)">4000</text>
<text x="0" y="0" font-size="8.1" fill="#222" font-weight="bold" text-anchor="end" transform="translate(389 300.57) scale(1 1.06)">5000</text>
<text x="0" y="0" font-size="8.1" fill="#222" font-weight="bold" text-anchor="end" transform="translate(389 266.79) scale(1 1.06)">6000</text>
<line x1="648.4" y1="450.81" x2="652" y2="450.81" stroke="#2b2b2b" stroke-width="1"/>
<line x1="648.4" y1="419.62" x2="652" y2="419.62" stroke="#2b2b2b" stroke-width="1"/>
<line x1="648.4" y1="388.44" x2="652" y2="388.44" stroke="#2b2b2b" stroke-width="1"/>
<line x1="648.4" y1="357.25" x2="652" y2="357.25" stroke="#2b2b2b" stroke-width="1"/>
<line x1="648.4" y1="326.07" x2="652" y2="326.07" stroke="#2b2b2b" stroke-width="1"/>
<line x1="648.4" y1="294.88" x2="652" y2="294.88" stroke="#2b2b2b" stroke-width="1"/>
<line x1="648.4" y1="263.7" x2="652" y2="263.7" stroke="#2b2b2b" stroke-width="1"/>
<line x1="648.4" y1="435.22" x2="650.4" y2="435.22" stroke="#2b2b2b" stroke-width="1"/>
<line x1="648.4" y1="404.03" x2="650.4" y2="404.03" stroke="#2b2b2b" stroke-width="1"/>
<line x1="648.4" y1="372.85" x2="650.4" y2="372.85" stroke="#2b2b2b" stroke-width="1"/>
<line x1="648.4" y1="341.66" x2="650.4" y2="341.66" stroke="#2b2b2b" stroke-width="1"/>
<line x1="648.4" y1="310.48" x2="650.4" y2="310.48" stroke="#2b2b2b" stroke-width="1"/>
<line x1="648.4" y1="279.29" x2="650.4" y2="279.29" stroke="#2b2b2b" stroke-width="1"/>
<text x="0" y="0" font-size="8.4" fill="#0000ff" font-weight="bold" transform="translate(654.4 454.01) scale(1 1.06)">0.0</text>
<text x="0" y="0" font-size="8.4" fill="#0000ff" font-weight="bold" transform="translate(654.4 422.83) scale(1 1.06)">0.5</text>
<text x="0" y="0" font-size="8.4" fill="#0000ff" font-weight="bold" transform="translate(654.4 391.64) scale(1 1.06)">1.0</text>
<text x="0" y="0" font-size="8.4" fill="#0000ff" font-weight="bold" transform="translate(654.4 360.46) scale(1 1.06)">1.5</text>
<text x="0" y="0" font-size="8.4" fill="#0000ff" font-weight="bold" transform="translate(654.4 329.27) scale(1 1.06)">2.0</text>
<text x="0" y="0" font-size="8.4" fill="#0000ff" font-weight="bold" transform="translate(654.4 298.09) scale(1 1.06)">2.5</text>
<text x="0" y="0" font-size="8.4" fill="#0000ff" font-weight="bold" transform="translate(654.4 266.91) scale(1 1.06)">3.0</text>
<text x="400" y="259.3" font-size="18" fill="#ff0000" style="font-family:'Liberation Serif', serif">d</text>
<text x="364.6" y="364" font-size="13" fill="#000" font-weight="bold" text-anchor="middle" transform="rotate(-90 364.6 364)">Permittivity (ε)</text>
<text x="682.3" y="364.1" font-size="13" fill="#0000ff" font-weight="bold" text-anchor="middle" transform="rotate(-90 682.3 364.1)">tan(δ)</text>
<text x="459.1" y="494.9" font-size="13.1" fill="#0000ff" font-weight="bold" textLength="105.2" lengthAdjust="spacingAndGlyphs">Temperature(<tspan dy="-4.6" font-size="8.5">o</tspan><tspan dy="4.6">C)</tspan></text>
<rect x="43.6" y="508.6" width="256.9" height="199.9" fill="url(#ge)" stroke="none" stroke-width="1"/>
<polyline points="60,687.58 62.63,687.76 65.25,687.94 67.88,688.12 70.5,688.3 73.13,688.47 75.75,688.64 78.38,688.8 81,688.97 83.63,689.13 86.25,689.28 88.88,689.44 91.5,689.58 94.13,689.73 96.75,689.88 99.38,690.03 102,690.17 104.63,690.31 107.25,690.46 109.88,690.59 112.5,690.73 115.13,690.86 117.75,690.98 120.37,691.1 123,691.22 125.62,691.33 128.25,691.43 130.87,691.53 133.5,691.63 136.12,691.74 138.75,691.84 141.37,691.95 144,692.05 146.62,692.14 149.25,692.23 151.87,692.31 154.5,692.38 157.12,692.43 159.75,692.47 162.37,692.5 165,692.5 167.62,692.48 170.25,692.45 172.87,692.41 175.5,692.35 178.12,692.28 180.74,692.2 183.37,692.11 185.99,692.02 188.62,691.93 191.24,691.83 193.87,691.73 196.49,691.63 199.12,691.53 201.74,691.44 204.37,691.34 206.99,691.23 209.62,691.12 212.24,691 214.87,690.88 217.49,690.75 220.12,690.62 222.74,690.49 225.37,690.35 227.99,690.2 230.62,690.06 233.24,689.9 235.86,689.75 238.49,689.59 241.11,689.43 243.74,689.27 246.36,689.1 248.99,688.92 251.61,688.73 254.24,688.52 256.86,688.3 259.49,688.05 262.11,687.77 264.74,687.44 267.36,687.07 269.99,686.67 272.61,686.24" fill="none" stroke="#000" stroke-width="1.2" stroke-linejoin="round" marker-start="url(#m0)" marker-mid="url(#m0)" marker-end="url(#m0)"/>
<polyline points="266,683 269.1,679.8 271.2,672.6 273.2,637.6" fill="none" stroke="#ff0000" stroke-width="1.5" stroke-linejoin="round"/>
<polyline points="60,687.07 62.63,687.24 65.25,687.41 67.88,687.58 70.5,687.75 73.13,687.92 75.75,688.09 78.38,688.26 81,688.43 83.63,688.59 86.25,688.76 88.88,688.93 91.5,689.1 94.13,689.26 96.75,689.43 99.38,689.6 102,689.77 104.63,689.94 107.25,690.11 109.88,690.27 112.5,690.44 115.13,690.6 117.75,690.77 120.37,690.93 123,691.09 125.62,691.25 128.25,691.4 130.87,691.55 133.5,691.71 136.12,691.89 138.75,692.07 141.37,692.26 144,692.44 146.62,692.62 149.25,692.78 151.87,692.94 154.5,693.07 157.12,693.17 159.75,693.25 162.37,693.29 165,693.3 167.62,693.3 170.25,693.29 172.87,693.28 175.5,693.27 178.12,693.25 180.74,693.23 183.37,693.21 185.99,693.18 188.62,693.15 191.24,693.12 193.87,693.08 196.49,693.03 199.12,692.98 201.74,692.93 204.37,692.87 206.99,692.81 209.62,692.74 212.24,692.66 214.87,692.58 217.49,692.49 220.12,692.4 222.74,692.3 225.37,692.2 227.99,692.09 230.62,691.96 233.24,691.52 235.86,690.8 238.49,689.98 241.11,689.25 243.74,688.76 246.36,688.41 248.99,688.09 251.61,687.69 254.24,687.13 256.86,686.39 259.49,685.46 262.11,684.36 264.74,682.95 267.36,681.01 269.1,679.8 271.2,672.6 273.2,637.6" fill="none" stroke="#ff0000" stroke-width="0.6" stroke-linejoin="round" marker-start="url(#m1)" marker-mid="url(#m1)" marker-end="url(#m1)"/>
<polyline points="60,686.77 62.63,686.94 65.25,687.11 67.88,687.28 70.5,687.45 73.13,687.62 75.75,687.79 78.38,687.96 81,688.13 83.63,688.29 86.25,688.46 88.88,688.63 91.5,688.8 94.13,688.96 96.75,689.13 99.38,689.3 102,689.47 104.63,689.64 107.25,689.81 109.88,689.97 112.5,690.14 115.13,690.3 117.75,690.47 120.37,690.63 123,690.79 125.62,690.95 128.25,691.1 130.87,691.25 133.5,691.41 136.12,691.59 138.75,691.77 141.37,691.96 144,692.14 146.62,692.32 149.25,692.48 151.87,692.64 154.5,692.77 157.12,692.87 159.75,692.95 162.37,692.99 165,693 167.62,693 170.25,692.99 172.87,692.99 175.5,692.98 178.12,692.97 180.74,692.96 183.37,692.94 185.99,692.93 188.62,692.91 191.24,692.88 193.87,692.86 196.49,692.83 199.12,692.8 201.74,692.76 204.37,692.73 206.99,692.69 209.62,692.64 212.24,692.6 214.87,692.55 217.49,692.49 220.12,692.43 222.74,692.37 225.37,692.31 227.99,692.24 230.62,692.17 233.24,692.09 235.86,692.01 238.49,691.92 241.11,691.84 243.74,691.74 246.36,691.64 248.99,691.54 251.61,691.39 254.24,691.05 256.86,690.53 259.49,689.84 262.11,689.03 264.74,688.1 267.36,686.77 269.99,684.79 272.61,682.44" fill="none" stroke="#0000ff" stroke-width="0.6" stroke-linejoin="round" marker-start="url(#m2)" marker-mid="url(#m2)" marker-end="url(#m2)"/>
<polyline points="60,686.57 62.63,686.74 65.25,686.91 67.88,687.08 70.5,687.25 73.13,687.42 75.75,687.59 78.38,687.76 81,687.93 83.63,688.09 86.25,688.26 88.88,688.43 91.5,688.6 94.13,688.76 96.75,688.93 99.38,689.1 102,689.27 104.63,689.44 107.25,689.61 109.88,689.77 112.5,689.94 115.13,690.1 117.75,690.27 120.37,690.43 123,690.59 125.62,690.75 128.25,690.9 130.87,691.05 133.5,691.21 136.12,691.39 138.75,691.57 141.37,691.76 144,691.94 146.62,692.12 149.25,692.28 151.87,692.44 154.5,692.57 157.12,692.67 159.75,692.75 162.37,692.79 165,692.8 167.62,692.8 170.25,692.8 172.87,692.8 175.5,692.8 178.12,692.8 180.74,692.8 183.37,692.8 185.99,692.8 188.62,692.8 191.24,692.8 193.87,692.8 196.49,692.8 199.12,692.8 201.74,692.8 204.37,692.8 206.99,692.8 209.62,692.8 212.24,692.8 214.87,692.8 217.49,692.8 220.12,692.8 222.74,692.8 225.37,692.8 227.99,692.8 230.62,692.8 233.24,692.8 235.86,692.8 238.49,692.8 241.11,692.8 243.74,692.8 246.36,692.8 248.99,692.8 251.61,692.8 254.24,692.8 256.86,692.8 259.49,692.8 262.11,692.8 264.74,692.8 267.36,692.8 269.99,692.8 272.61,692.8" fill="none" stroke="#ff00ff" stroke-width="0.6" stroke-linejoin="round" marker-start="url(#m3)" marker-mid="url(#m3)" marker-end="url(#m3)"/>
<polyline points="60,634.38 63.29,629.92 66.57,625.35 69.85,621.36 73.13,617.93 76.41,615.23 79.69,613.05 82.97,611.28 86.25,609.91 89.53,608.72 92.81,608.02 96.1,607.81 98.72,607.71 101.35,607.74 103.97,608.03 106.59,608.5 109.22,609.21 111.84,610.35 114.47,611.7 117.09,613.39 119.72,615.38 122.34,617.37 124.97,619.18 127.59,620.9 130.22,622.63 132.84,624.47 135.47,626.5 138.09,628.91 140.72,631.49 143.34,633.93 145.97,636.31 148.59,638.66 151.22,640.98 153.84,643.27 156.47,645.53 159.09,647.74 161.71,649.92 164.34,652.05 166.96,654.14 169.59,656.16 172.21,658.15 174.84,660.12 177.46,662 180.09,663.7 182.71,665.21 185.34,666.64 187.96,668.01 190.59,669.3 193.21,670.52 195.84,671.67 198.46,672.75 201.09,673.76 203.71,674.71 206.34,675.64 208.96,676.53 211.59,677.37 214.21,678.15 216.84,678.86 219.46,679.5 222.08,680.06 224.71,680.56 227.33,681.04 229.96,681.49 232.58,681.91 235.21,682.28 237.83,682.6 240.46,682.86 243.08,683.05 245.71,683.17 248.33,683.22 250.96,683.18 253.58,683.05 256.21,682.81 258.83,682.48 246.5,679.8 250.6,680.9 254.7,682.9 258.8,676.7 262,673.5 265,670.6 267,667.5 269.1,664.4 271.2,652 273.6,581" fill="none" stroke="#000" stroke-width="1.2" stroke-linejoin="round" marker-start="url(#m0)" marker-mid="url(#m0)" marker-end="url(#m0)"/>
<polyline points="60,638.45 63.29,632.56 66.57,627.6 69.85,623.52 73.13,619.87 76.41,616.83 79.69,614.59 82.97,612.7 86.25,611.1 89.53,610.05 92.81,609.7 96.1,609.53 98.72,609.44 101.35,609.4 103.97,609.57 106.59,610.16 109.22,611 111.84,611.94 114.47,613.01 117.09,614.43 119.72,616.04 122.34,617.71 124.97,619.37 127.59,621.09 130.22,622.91 132.84,624.84 135.47,626.9 138.09,629.24 140.72,631.72 143.34,634.12 145.97,636.49 148.59,638.85 151.22,641.2 153.84,643.52 156.47,645.8 159.09,648.04 161.71,650.22 164.34,652.36 166.96,654.44 169.59,656.46 172.21,658.45 174.84,660.42 177.46,662.3 180.09,664 182.71,665.5 185.34,666.92 187.96,668.26 190.59,669.54 193.21,670.74 195.84,671.88 198.46,672.95 201.09,673.96 203.71,674.92 206.34,675.83 208.96,676.71 211.59,677.55 214.21,678.33 216.84,679.07 219.46,679.74 222.08,680.36 224.71,680.97 227.33,681.58 229.96,682.17 232.58,682.72 235.21,683.2 237.83,683.59 240.46,683.88 243.08,684.04 245.71,684.16 248.33,684.26 250.96,684.35 253.58,684.42 256.21,684.47 258.83,684.5 261.46,684.45 264.08,684.17 266.71,683.67 269.33,683.03 271.96,682.3" fill="none" stroke="#ff0000" stroke-width="1.2" stroke-linejoin="round" marker-start="url(#m4)" marker-mid="url(#m4)" marker-end="url(#m4)"/>
<polyline points="60,643.19 63.29,638.98 66.57,635.07 69.85,631.41 73.13,627.97 76.41,624.68 79.69,621.56 82.97,619.1 86.25,617.15 89.53,615.51 92.81,614.28 96.1,613.34 99.38,612.6 102,612.4 104.63,612.46 107.25,612.61 109.88,612.83 112.5,613.23 115.13,614.05 117.75,615.06 120.37,616.34 123,617.95 125.62,619.75 128.25,621.6 130.87,623.56 133.5,625.67 136.12,627.88 138.75,630.24 141.37,632.64 144,635 146.62,637.37 149.25,639.75 151.87,642.11 154.5,644.44 157.12,646.74 159.75,648.99 162.37,651.18 165,653.34 167.62,655.44 170.25,657.46 172.87,659.43 175.5,661.36 178.12,663.17 180.74,664.78 183.37,666.24 185.99,667.63 188.62,668.94 191.24,670.19 193.87,671.37 196.49,672.48 199.12,673.52 201.74,674.5 204.37,675.43 206.99,676.31 209.62,677.15 212.24,677.95 214.87,678.71 217.49,679.42 220.12,680.09 222.74,680.72 225.37,681.37 227.99,682.01 230.62,682.63 233.24,683.21 235.86,683.72 238.49,684.13 241.11,684.42 243.74,684.58 246.36,684.73 248.99,684.86 251.61,684.99 254.24,685.1 256.86,685.2 259.49,685.28 262.11,685.36 264.74,685.42 267.36,685.46 269.99,685.49 272.61,685.5" fill="none" stroke="#0000ff" stroke-width="1.2" stroke-linejoin="round" marker-start="url(#m5)" marker-mid="url(#m5)" marker-end="url(#m5)"/>
<polyline points="60,654.29 63.29,649.22 66.57,644.89 69.85,640.93 73.13,637.06 76.41,633.36 79.69,630.18 82.97,627.4 86.25,624.94 89.53,622.88 92.81,621.07 96.1,619.48 99.38,618.36 102.66,617.72 105.28,617.33 107.91,617.12 110.53,617.27 113.16,617.97 115.78,618.89 118.41,620 121.03,621.42 123.66,623.03 126.28,624.69 128.91,626.39 131.53,628.21 134.15,630.12 136.78,632.08 139.4,634.07 142.03,636.05 144.65,638.03 147.28,640.03 149.9,642.07 152.53,644.12 155.15,646.18 157.78,648.25 160.4,650.32 163.03,652.43 165.65,654.56 168.28,656.65 170.9,658.65 173.53,660.62 176.15,662.54 178.78,664.31 181.4,665.85 184.03,667.25 186.65,668.58 189.28,669.83 191.9,671.01 194.52,672.12 197.15,673.18 199.77,674.18 202.4,675.13 205.02,676.04 207.65,676.91 210.27,677.74 212.9,678.53 215.52,679.28 218.15,679.98 220.77,680.65 223.4,681.29 226.02,681.92 228.65,682.54 231.27,683.14 233.9,683.69 236.52,684.18 239.15,684.61 241.77,684.94 244.4,685.21 247.02,685.47 249.64,685.72 252.27,685.96 254.89,686.18 257.52,686.38 260.14,686.56 262.77,686.71 265.39,686.84 268.02,686.93 270.64,686.98 273.27,687" fill="none" stroke="#ff00ff" stroke-width="1.2" stroke-linejoin="round" marker-start="url(#m6)" marker-mid="url(#m6)" marker-end="url(#m6)"/>
<line x1="145.6" y1="635.7" x2="116.3" y2="635.7" stroke="#000" stroke-width="1.5"/>
<polygon points="108.8,635.7 117.3,633.1 117.3,638.3" fill="#000"/>
<line x1="222.8" y1="642.8" x2="288.4" y2="642.8" stroke="#0000ff" stroke-width="1.5"/>
<polygon points="295.9,642.8 287.4,645.4 287.4,640.2" fill="#0000ff"/>
<text x="46.6" y="525" font-size="13.6" fill="#ff0000" font-weight="bold">Nd=0.1</text>
<rect x="256.4" y="508.6" width="42.8" height="34.8" fill="#fff" stroke="#555" stroke-width="0.8"/>
<line x1="256.9" y1="513.8" x2="272.8" y2="513.8" stroke="#000" stroke-width="1.7"/>
<rect x="263.25" y="512.2" width="3.2" height="3.2" fill="#000" stroke="none" stroke-width="1"/>
<text x="274.8" y="516.28" font-size="6.9" fill="#000" font-weight="bold">500Hz</text>
<line x1="256.9" y1="522.2" x2="272.8" y2="522.2" stroke="#ff0000" stroke-width="1.7"/>
<rect x="263.25" y="520.6" width="3.2" height="3.2" fill="#ff0000" stroke="none" stroke-width="1"/>
<text x="274.8" y="524.68" font-size="6.9" fill="#ff0000" font-weight="bold">1kHz</text>
<line x1="256.9" y1="530.7" x2="272.8" y2="530.7" stroke="#0000ff" stroke-width="1.7"/>
<rect x="263.25" y="529.1" width="3.2" height="3.2" fill="#0000ff" stroke="none" stroke-width="1"/>
<text x="274.8" y="533.18" font-size="6.9" fill="#0000ff" font-weight="bold">10kHz</text>
<line x1="256.9" y1="539.1" x2="272.8" y2="539.1" stroke="#ff00ff" stroke-width="1.7"/>
<rect x="263.25" y="537.5" width="3.2" height="3.2" fill="#ff00ff" stroke="none" stroke-width="1"/>
<text x="274.8" y="541.58" font-size="6.9" fill="#ff00ff" font-weight="bold">100kHz</text>
<rect x="43.6" y="508.6" width="256.9" height="199.9" fill="none" stroke="#2b2b2b" stroke-width="1.2"/>
<line x1="43.6" y1="708.5" x2="43.6" y2="712.1" stroke="#2b2b2b" stroke-width="1"/>
<line x1="43.6" y1="508.6" x2="43.6" y2="512.2" stroke="#2b2b2b" stroke-width="1"/>
<line x1="76.41" y1="708.5" x2="76.41" y2="712.1" stroke="#2b2b2b" stroke-width="1"/>
<line x1="76.41" y1="508.6" x2="76.41" y2="512.2" stroke="#2b2b2b" stroke-width="1"/>
<line x1="109.22" y1="708.5" x2="109.22" y2="712.1" stroke="#2b2b2b" stroke-width="1"/>
<line x1="109.22" y1="508.6" x2="109.22" y2="512.2" stroke="#2b2b2b" stroke-width="1"/>
<line x1="142.03" y1="708.5" x2="142.03" y2="712.1" stroke="#2b2b2b" stroke-width="1"/>
<line x1="142.03" y1="508.6" x2="142.03" y2="512.2" stroke="#2b2b2b" stroke-width="1"/>
<line x1="174.84" y1="708.5" x2="174.84" y2="712.1" stroke="#2b2b2b" stroke-width="1"/>
<line x1="174.84" y1="508.6" x2="174.84" y2="512.2" stroke="#2b2b2b" stroke-width="1"/>
<line x1="207.65" y1="708.5" x2="207.65" y2="712.1" stroke="#2b2b2b" stroke-width="1"/>
<line x1="207.65" y1="508.6" x2="207.65" y2="512.2" stroke="#2b2b2b" stroke-width="1"/>
<line x1="240.46" y1="708.5" x2="240.46" y2="712.1" stroke="#2b2b2b" stroke-width="1"/>
<line x1="240.46" y1="508.6" x2="240.46" y2="512.2" stroke="#2b2b2b" stroke-width="1"/>
<line x1="273.27" y1="708.5" x2="273.27" y2="712.1" stroke="#2b2b2b" stroke-width="1"/>
<line x1="273.27" y1="508.6" x2="273.27" y2="512.2" stroke="#2b2b2b" stroke-width="1"/>
<line x1="60" y1="708.5" x2="60" y2="710.5" stroke="#2b2b2b" stroke-width="1"/>
<line x1="60" y1="508.6" x2="60" y2="510.6" stroke="#2b2b2b" stroke-width="1"/>
<line x1="92.81" y1="708.5" x2="92.81" y2="710.5" stroke="#2b2b2b" stroke-width="1"/>
<line x1="92.81" y1="508.6" x2="92.81" y2="510.6" stroke="#2b2b2b" stroke-width="1"/>
<line x1="125.62" y1="708.5" x2="125.62" y2="710.5" stroke="#2b2b2b" stroke-width="1"/>
<line x1="125.62" y1="508.6" x2="125.62" y2="510.6" stroke="#2b2b2b" stroke-width="1"/>
<line x1="158.43" y1="708.5" x2="158.43" y2="710.5" stroke="#2b2b2b" stroke-width="1"/>
<line x1="158.43" y1="508.6" x2="158.43" y2="510.6" stroke="#2b2b2b" stroke-width="1"/>
<line x1="191.24" y1="708.5" x2="191.24" y2="710.5" stroke="#2b2b2b" stroke-width="1"/>
<line x1="191.24" y1="508.6" x2="191.24" y2="510.6" stroke="#2b2b2b" stroke-width="1"/>
<line x1="224.05" y1="708.5" x2="224.05" y2="710.5" stroke="#2b2b2b" stroke-width="1"/>
<line x1="224.05" y1="508.6" x2="224.05" y2="510.6" stroke="#2b2b2b" stroke-width="1"/>
<line x1="256.86" y1="708.5" x2="256.86" y2="710.5" stroke="#2b2b2b" stroke-width="1"/>
<line x1="256.86" y1="508.6" x2="256.86" y2="510.6" stroke="#2b2b2b" stroke-width="1"/>
<line x1="289.67" y1="708.5" x2="289.67" y2="710.5" stroke="#2b2b2b" stroke-width="1"/>
<line x1="289.67" y1="508.6" x2="289.67" y2="510.6" stroke="#2b2b2b" stroke-width="1"/>
<text x="0" y="0" font-size="8.1" fill="#222" font-weight="bold" text-anchor="middle" transform="translate(43.6 722.1) scale(1 1.06)">-100</text>
<text x="0" y="0" font-size="8.1" fill="#222" font-weight="bold" text-anchor="middle" transform="translate(76.41 722.1) scale(1 1.06)">-50</text>
<text x="0" y="0" font-size="8.1" fill="#222" font-weight="bold" text-anchor="middle" transform="translate(109.22 722.1) scale(1 1.06)">0</text>
<text x="0" y="0" font-size="8.1" fill="#222" font-weight="bold" text-anchor="middle" transform="translate(142.03 722.1) scale(1 1.06)">50</text>
<text x="0" y="0" font-size="8.1" fill="#222" font-weight="bold" text-anchor="middle" transform="translate(174.84 722.1) scale(1 1.06)">100</text>
<text x="0" y="0" font-size="8.1" fill="#222" font-weight="bold" text-anchor="middle" transform="translate(207.65 722.1) scale(1 1.06)">150</text>
<text x="0" y="0" font-size="8.1" fill="#222" font-weight="bold" text-anchor="middle" transform="translate(240.46 722.1) scale(1 1.06)">200</text>
<text x="0" y="0" font-size="8.1" fill="#222" font-weight="bold" text-anchor="middle" transform="translate(273.27 722.1) scale(1 1.06)">250</text>
<line x1="40" y1="708.5" x2="43.6" y2="708.5" stroke="#2b2b2b" stroke-width="1"/>
<line x1="40" y1="675.18" x2="43.6" y2="675.18" stroke="#2b2b2b" stroke-width="1"/>
<line x1="40" y1="641.87" x2="43.6" y2="641.87" stroke="#2b2b2b" stroke-width="1"/>
<line x1="40" y1="608.55" x2="43.6" y2="608.55" stroke="#2b2b2b" stroke-width="1"/>
<line x1="40" y1="575.23" x2="43.6" y2="575.23" stroke="#2b2b2b" stroke-width="1"/>
<line x1="40" y1="541.92" x2="43.6" y2="541.92" stroke="#2b2b2b" stroke-width="1"/>
<line x1="40" y1="508.6" x2="43.6" y2="508.6" stroke="#2b2b2b" stroke-width="1"/>
<line x1="41.6" y1="691.84" x2="43.6" y2="691.84" stroke="#2b2b2b" stroke-width="1"/>
<line x1="41.6" y1="658.52" x2="43.6" y2="658.52" stroke="#2b2b2b" stroke-width="1"/>
<line x1="41.6" y1="625.21" x2="43.6" y2="625.21" stroke="#2b2b2b" stroke-width="1"/>
<line x1="41.6" y1="591.89" x2="43.6" y2="591.89" stroke="#2b2b2b" stroke-width="1"/>
<line x1="41.6" y1="558.58" x2="43.6" y2="558.58" stroke="#2b2b2b" stroke-width="1"/>
<line x1="41.6" y1="525.26" x2="43.6" y2="525.26" stroke="#2b2b2b" stroke-width="1"/>
<text x="0" y="0" font-size="8.1" fill="#222" font-weight="bold" text-anchor="end" transform="translate(36.5 711.59) scale(1 1.06)">0</text>
<text x="0" y="0" font-size="8.1" fill="#222" font-weight="bold" text-anchor="end" transform="translate(36.5 678.27) scale(1 1.06)">1000</text>
<text x="0" y="0" font-size="8.1" fill="#222" font-weight="bold" text-anchor="end" transform="translate(36.5 644.96) scale(1 1.06)">2000</text>
<text x="0" y="0" font-size="8.1" fill="#222" font-weight="bold" text-anchor="end" transform="translate(36.5 611.64) scale(1 1.06)">3000</text>
<text x="0" y="0" font-size="8.1" fill="#222" font-weight="bold" text-anchor="end" transform="translate(36.5 578.32) scale(1 1.06)">4000</text>
<text x="0" y="0" font-size="8.1" fill="#222" font-weight="bold" text-anchor="end" transform="translate(36.5 545.01) scale(1 1.06)">5000</text>
<text x="0" y="0" font-size="8.1" fill="#222" font-weight="bold" text-anchor="end" transform="translate(36.5 511.69) scale(1 1.06)">6000</text>
<line x1="300.5" y1="693.12" x2="304.1" y2="693.12" stroke="#2b2b2b" stroke-width="1"/>
<line x1="300.5" y1="662.37" x2="304.1" y2="662.37" stroke="#2b2b2b" stroke-width="1"/>
<line x1="300.5" y1="631.62" x2="304.1" y2="631.62" stroke="#2b2b2b" stroke-width="1"/>
<line x1="300.5" y1="600.86" x2="304.1" y2="600.86" stroke="#2b2b2b" stroke-width="1"/>
<line x1="300.5" y1="570.11" x2="304.1" y2="570.11" stroke="#2b2b2b" stroke-width="1"/>
<line x1="300.5" y1="539.35" x2="304.1" y2="539.35" stroke="#2b2b2b" stroke-width="1"/>
<line x1="300.5" y1="508.6" x2="304.1" y2="508.6" stroke="#2b2b2b" stroke-width="1"/>
<line x1="300.5" y1="677.75" x2="302.5" y2="677.75" stroke="#2b2b2b" stroke-width="1"/>
<line x1="300.5" y1="646.99" x2="302.5" y2="646.99" stroke="#2b2b2b" stroke-width="1"/>
<line x1="300.5" y1="616.24" x2="302.5" y2="616.24" stroke="#2b2b2b" stroke-width="1"/>
<line x1="300.5" y1="585.48" x2="302.5" y2="585.48" stroke="#2b2b2b" stroke-width="1"/>
<line x1="300.5" y1="554.73" x2="302.5" y2="554.73" stroke="#2b2b2b" stroke-width="1"/>
<line x1="300.5" y1="523.98" x2="302.5" y2="523.98" stroke="#2b2b2b" stroke-width="1"/>
<text x="0" y="0" font-size="8.4" fill="#0000ff" font-weight="bold" transform="translate(306.5 696.33) scale(1 1.06)">0.0</text>
<text x="0" y="0" font-size="8.4" fill="#0000ff" font-weight="bold" transform="translate(306.5 665.57) scale(1 1.06)">0.5</text>
<text x="0" y="0" font-size="8.4" fill="#0000ff" font-weight="bold" transform="translate(306.5 634.82) scale(1 1.06)">1.0</text>
<text x="0" y="0" font-size="8.4" fill="#0000ff" font-weight="bold" transform="translate(306.5 604.07) scale(1 1.06)">1.5</text>
<text x="0" y="0" font-size="8.4" fill="#0000ff" font-weight="bold" transform="translate(306.5 573.31) scale(1 1.06)">2.0</text>
<text x="0" y="0" font-size="8.4" fill="#0000ff" font-weight="bold" transform="translate(306.5 542.56) scale(1 1.06)">2.5</text>
<text x="0" y="0" font-size="8.4" fill="#0000ff" font-weight="bold" transform="translate(306.5 511.81) scale(1 1.06)">3.0</text>
<text x="49" y="501" font-size="18" fill="#ff0000" style="font-family:'Liberation Serif', serif">e</text>
<text x="10.7" y="608.2" font-size="13" fill="#000" font-weight="bold" text-anchor="middle" transform="rotate(-90 10.7 608.2)">Permittivity (ε)</text>
<text x="333" y="608" font-size="13" fill="#0000ff" font-weight="bold" text-anchor="middle" transform="rotate(-90 333 608)">tan(δ)</text>
<text x="107.6" y="736.9" font-size="13.1" fill="#0000ff" font-weight="bold" textLength="107.0" lengthAdjust="spacingAndGlyphs">Temperature(<tspan dy="-4.6" font-size="8.5">o</tspan><tspan dy="4.6">C)</tspan></text>
<rect x="398.1" y="507.5" width="230" height="195.1" fill="url(#gf)" stroke="none" stroke-width="1"/>
<line x1="398.1" y1="507.5" x2="629.5" y2="507.5" stroke="#b0a890" stroke-width="0.9"/>
<path d="M417.46,673.4 L419.09,671.13 L420.71,668.85 L422.34,666.57 L423.97,664.29 L425.59,662 L427.22,659.7 L428.85,657.4 L430.47,655.08 L432.1,652.76 L433.73,650.42 L435.35,648.07 L436.98,645.7 L438.61,643.31 L440.23,640.91 L441.86,638.48 L443.49,636.04 L445.11,633.57 L446.74,631.08 L448.37,628.56 L449.99,626.02 L451.62,623.44 L453.25,620.84 L454.87,618.21 L456.5,615.54 L458.13,612.84 L459.75,610.1 L461.38,607.33 L463.01,604.52 L464.63,601.67 L466.26,598.77 L467.89,595.84 L469.51,592.88 L471.14,589.89 L472.77,586.89 L474.39,583.89 L476.02,580.88 L477.65,577.89 L479.27,574.92 L480.9,571.99 L482.53,569.09 L484.16,566.23 L485.78,563.43 L487.41,560.7 L489.04,558.04 L490.66,555.46 L492.29,552.98 L493.92,550.59 L495.54,548.31 L497.17,546.15 L498.8,544.11 L500.42,542.21 L502.05,540.45 L503.68,538.84 L505.3,537.4 L506.93,536.12 L508.56,535.02 L510.18,534.11 L511.81,533.39 L513.44,532.88 L515.06,532.58 L516.69,532.49 L518.32,532.6 L519.94,532.91 L521.57,533.4 L523.2,534.06 L524.82,534.88 L526.45,535.85 L528.08,536.97 L529.7,538.22 L531.33,539.59 L532.96,541.08 L534.58,542.66 L536.21,544.34 L537.84,546.1 L539.46,547.93 L541.09,549.83 L542.72,551.77 L544.34,553.76 L545.97,555.78 L547.6,557.83 L549.23,559.88 L550.85,561.94 L552.48,563.99 L554.11,566.02 L555.73,568.03 L557.36,569.99 L558.99,571.91 L560.61,573.77 L562.24,575.56 L563.87,577.28 L565.49,578.92 L567.12,580.48 L568.75,581.97 L570.37,583.38 L572,584.73 L573.63,586.02 L575.25,587.24 L576.88,588.41 L578.51,589.51 L580.13,590.57 L581.76,591.57 L583.39,592.52 L585.01,593.43 L586.64,594.29 L588.27,595.12 L589.89,595.9 L591.52,596.65 L593.15,597.37 L594.77,598.06 L596.4,598.72 L598.03,599.36 L599.65,599.97 L601.28,600.57 L602.91,601.15 L604.53,601.71 L606.16,602.27 L607.79,602.82 L609.41,603.36 L611.04,603.9" stroke="#ff00ff" stroke-width="2.2" fill="none" stroke-linejoin="round" stroke-linecap="round"/>
<use href="#fsq" x="417.46" y="673.4"/>
<use href="#fsq" x="465.85" y="599.5"/>
<use href="#fsq" x="514.25" y="532.7"/>
<use href="#fsq" x="562.65" y="576"/>
<use href="#fsq" x="611.04" y="603.9"/>
<path d="M417.46,633.8 L419.09,630.92 L420.71,628.05 L422.34,625.18 L423.97,622.33 L425.59,619.49 L427.22,616.68 L428.85,613.89 L430.47,611.14 L432.1,608.42 L433.73,605.74 L435.35,603.1 L436.98,600.52 L438.61,597.98 L440.23,595.51 L441.86,593.09 L443.49,590.75 L445.11,588.47 L446.74,586.27 L448.37,584.15 L449.99,582.12 L451.62,580.17 L453.25,578.32 L454.87,576.56 L456.5,574.91 L458.13,573.36 L459.75,571.92 L461.38,570.6 L463.01,569.4 L464.63,568.32 L466.26,567.38 L467.89,566.56 L469.51,565.86 L471.14,565.29 L472.77,564.82 L474.39,564.46 L476.02,564.2 L477.65,564.04 L479.27,563.96 L480.9,563.96 L482.53,564.03 L484.16,564.17 L485.78,564.37 L487.41,564.63 L489.04,564.94 L490.66,565.28 L492.29,565.67 L493.92,566.08 L495.54,566.52 L497.17,566.97 L498.8,567.44 L500.42,567.91 L502.05,568.38 L503.68,568.84 L505.3,569.28 L506.93,569.71 L508.56,570.11 L510.18,570.47 L511.81,570.8 L513.44,571.08 L515.06,571.31 L516.69,571.48 L518.32,571.6 L519.94,571.68 L521.57,571.7 L523.2,571.69 L524.82,571.63 L526.45,571.53 L528.08,571.4 L529.7,571.23 L531.33,571.03 L532.96,570.8 L534.58,570.54 L536.21,570.26 L537.84,569.96 L539.46,569.64 L541.09,569.3 L542.72,568.94 L544.34,568.58 L545.97,568.2 L547.6,567.82 L549.23,567.44 L550.85,567.05 L552.48,566.66 L554.11,566.27 L555.73,565.9 L557.36,565.52 L558.99,565.16 L560.61,564.81 L562.24,564.48 L563.87,564.17 L565.49,563.87 L567.12,563.59 L568.75,563.32 L570.37,563.08 L572,562.84 L573.63,562.63 L575.25,562.42 L576.88,562.23 L578.51,562.06 L580.13,561.89 L581.76,561.74 L583.39,561.6 L585.01,561.47 L586.64,561.35 L588.27,561.24 L589.89,561.13 L591.52,561.04 L593.15,560.95 L594.77,560.87 L596.4,560.79 L598.03,560.73 L599.65,560.66 L601.28,560.6 L602.91,560.55 L604.53,560.49 L606.16,560.44 L607.79,560.39 L609.41,560.35 L611.04,560.3" stroke="#ff0000" stroke-width="2.8" fill="none" stroke-linejoin="round" stroke-linecap="round"/>
<use href="#fci" x="417.46" y="633.8"/>
<use href="#fci" x="465.85" y="567.6"/>
<use href="#fci" x="514.25" y="571.2"/>
<use href="#fci" x="562.65" y="564.4"/>
<use href="#fci" x="611.04" y="560.3"/>
<path d="M417.46,686.9 L419.09,685.36 L420.71,683.82 L422.34,682.28 L423.97,680.75 L425.59,679.22 L427.22,677.7 L428.85,676.19 L430.47,674.69 L432.1,673.21 L433.73,671.73 L435.35,670.28 L436.98,668.84 L438.61,667.42 L440.23,666.02 L441.86,664.64 L443.49,663.29 L445.11,661.96 L446.74,660.66 L448.37,659.38 L449.99,658.14 L451.62,656.93 L453.25,655.75 L454.87,654.6 L456.5,653.49 L458.13,652.42 L459.75,651.39 L461.38,650.4 L463.01,649.45 L464.63,648.55 L466.26,647.69 L467.89,646.88 L469.51,646.1 L471.14,645.37 L472.77,644.67 L474.39,644 L476.02,643.36 L477.65,642.74 L479.27,642.14 L480.9,641.56 L482.53,640.99 L484.16,640.42 L485.78,639.86 L487.41,639.3 L489.04,638.73 L490.66,638.16 L492.29,637.57 L493.92,636.97 L495.54,636.35 L497.17,635.71 L498.8,635.04 L500.42,634.34 L502.05,633.6 L503.68,632.83 L505.3,632.01 L506.93,631.15 L508.56,630.24 L510.18,629.27 L511.81,628.25 L513.44,627.17 L515.06,626.02 L516.69,624.8 L518.32,623.52 L519.94,622.19 L521.57,620.79 L523.2,619.34 L524.82,617.84 L526.45,616.29 L528.08,614.69 L529.7,613.05 L531.33,611.37 L532.96,609.65 L534.58,607.89 L536.21,606.1 L537.84,604.28 L539.46,602.44 L541.09,600.57 L542.72,598.68 L544.34,596.77 L545.97,594.84 L547.6,592.9 L549.23,590.95 L550.85,588.99 L552.48,587.02 L554.11,585.06 L555.73,583.09 L557.36,581.13 L558.99,579.17 L560.61,577.22 L562.24,575.28 L563.87,573.36 L565.49,571.45 L567.12,569.55 L568.75,567.67 L570.37,565.8 L572,563.94 L573.63,562.1 L575.25,560.27 L576.88,558.44 L578.51,556.63 L580.13,554.83 L581.76,553.03 L583.39,551.25 L585.01,549.47 L586.64,547.71 L588.27,545.94 L589.89,544.19 L591.52,542.44 L593.15,540.7 L594.77,538.97 L596.4,537.24 L598.03,535.51 L599.65,533.79 L601.28,532.07 L602.91,530.35 L604.53,528.64 L606.16,526.93 L607.79,525.22 L609.41,523.51 L611.04,521.8" stroke="#0000ff" stroke-width="2.6" fill="none" stroke-linejoin="round" stroke-linecap="round"/>
<use href="#ftr" x="417.46" y="686.9"/>
<use href="#ftr" x="465.85" y="647.9"/>
<use href="#ftr" x="514.25" y="626.6"/>
<use href="#ftr" x="562.65" y="574.8"/>
<use href="#ftr" x="611.04" y="521.8"/>
<line x1="398.1" y1="702.6" x2="630.4" y2="702.6" stroke="#333" stroke-width="1.1"/>
<line x1="417.46" y1="702.6" x2="417.46" y2="705.8" stroke="#333" stroke-width="1"/>
<text x="417.46" y="718" font-size="8.3" fill="#222" font-weight="bold" text-anchor="middle">0.00</text>
<line x1="456.18" y1="702.6" x2="456.18" y2="705.8" stroke="#333" stroke-width="1"/>
<text x="456.18" y="718" font-size="8.3" fill="#222" font-weight="bold" text-anchor="middle">0.02</text>
<line x1="494.89" y1="702.6" x2="494.89" y2="705.8" stroke="#333" stroke-width="1"/>
<text x="494.89" y="718" font-size="8.3" fill="#222" font-weight="bold" text-anchor="middle">0.04</text>
<line x1="533.61" y1="702.6" x2="533.61" y2="705.8" stroke="#333" stroke-width="1"/>
<text x="533.61" y="718" font-size="8.3" fill="#222" font-weight="bold" text-anchor="middle">0.06</text>
<line x1="572.33" y1="702.6" x2="572.33" y2="705.8" stroke="#333" stroke-width="1"/>
<text x="572.33" y="718" font-size="8.3" fill="#222" font-weight="bold" text-anchor="middle">0.08</text>
<line x1="611.04" y1="702.6" x2="611.04" y2="705.8" stroke="#333" stroke-width="1"/>
<text x="611.04" y="718" font-size="8.3" fill="#222" font-weight="bold" text-anchor="middle">0.10</text>
<line x1="398.1" y1="702.6" x2="398.1" y2="704.6" stroke="#333" stroke-width="1"/>
<line x1="436.82" y1="702.6" x2="436.82" y2="704.6" stroke="#333" stroke-width="1"/>
<line x1="475.53" y1="702.6" x2="475.53" y2="704.6" stroke="#333" stroke-width="1"/>
<line x1="514.25" y1="702.6" x2="514.25" y2="704.6" stroke="#333" stroke-width="1"/>
<line x1="552.97" y1="702.6" x2="552.97" y2="704.6" stroke="#333" stroke-width="1"/>
<line x1="591.68" y1="702.6" x2="591.68" y2="704.6" stroke="#333" stroke-width="1"/>
<line x1="630.4" y1="702.6" x2="630.4" y2="704.6" stroke="#333" stroke-width="1"/>
<line x1="398.1" y1="507.5" x2="398.1" y2="702.6" stroke="#ff00ff" stroke-width="1.2"/>
<line x1="395.1" y1="683.09" x2="398.1" y2="683.09" stroke="#ff00ff" stroke-width="1"/>
<text x="393.2" y="686.29" font-size="8.8" fill="#ff00ff" font-weight="bold" text-anchor="end">1k</text>
<line x1="395.1" y1="644.07" x2="398.1" y2="644.07" stroke="#ff00ff" stroke-width="1"/>
<text x="393.2" y="647.27" font-size="8.8" fill="#ff00ff" font-weight="bold" text-anchor="end">2k</text>
<line x1="395.1" y1="605.05" x2="398.1" y2="605.05" stroke="#ff00ff" stroke-width="1"/>
<text x="393.2" y="608.25" font-size="8.8" fill="#ff00ff" font-weight="bold" text-anchor="end">3k</text>
<line x1="395.1" y1="566.03" x2="398.1" y2="566.03" stroke="#ff00ff" stroke-width="1"/>
<text x="393.2" y="569.23" font-size="8.8" fill="#ff00ff" font-weight="bold" text-anchor="end">4k</text>
<line x1="395.1" y1="527.01" x2="398.1" y2="527.01" stroke="#ff00ff" stroke-width="1"/>
<text x="393.2" y="530.21" font-size="8.8" fill="#ff00ff" font-weight="bold" text-anchor="end">5k</text>
<line x1="396.1" y1="663.58" x2="398.1" y2="663.58" stroke="#ff00ff" stroke-width="1"/>
<line x1="396.1" y1="624.56" x2="398.1" y2="624.56" stroke="#ff00ff" stroke-width="1"/>
<line x1="396.1" y1="585.54" x2="398.1" y2="585.54" stroke="#ff00ff" stroke-width="1"/>
<line x1="396.1" y1="546.52" x2="398.1" y2="546.52" stroke="#ff00ff" stroke-width="1"/>
<line x1="396.1" y1="507.5" x2="398.1" y2="507.5" stroke="#ff00ff" stroke-width="1"/>
<line x1="396.1" y1="702.6" x2="398.1" y2="702.6" stroke="#ff00ff" stroke-width="1"/>
<line x1="630.4" y1="507.5" x2="630.4" y2="702.6" stroke="#ff0000" stroke-width="1.2"/>
<line x1="630.4" y1="702.6" x2="633.4" y2="702.6" stroke="#ff0000" stroke-width="1"/>
<text x="635.6" y="705.7" font-size="8.5" fill="#ff0000" font-weight="bold">1.5</text>
<line x1="630.4" y1="663.58" x2="633.4" y2="663.58" stroke="#ff0000" stroke-width="1"/>
<text x="635.6" y="666.68" font-size="8.5" fill="#ff0000" font-weight="bold">1.6</text>
<line x1="630.4" y1="624.56" x2="633.4" y2="624.56" stroke="#ff0000" stroke-width="1"/>
<text x="635.6" y="627.66" font-size="8.5" fill="#ff0000" font-weight="bold">1.7</text>
<line x1="630.4" y1="585.54" x2="633.4" y2="585.54" stroke="#ff0000" stroke-width="1"/>
<text x="635.6" y="588.64" font-size="8.5" fill="#ff0000" font-weight="bold">1.8</text>
<line x1="630.4" y1="546.52" x2="633.4" y2="546.52" stroke="#ff0000" stroke-width="1"/>
<text x="635.6" y="549.62" font-size="8.5" fill="#ff0000" font-weight="bold">1.9</text>
<line x1="630.4" y1="507.5" x2="633.4" y2="507.5" stroke="#ff0000" stroke-width="1"/>
<text x="635.6" y="510.6" font-size="8.5" fill="#ff0000" font-weight="bold">2.0</text>
<line x1="630.4" y1="683.09" x2="632.4" y2="683.09" stroke="#ff0000" stroke-width="1"/>
<line x1="630.4" y1="644.07" x2="632.4" y2="644.07" stroke="#ff0000" stroke-width="1"/>
<line x1="630.4" y1="605.05" x2="632.4" y2="605.05" stroke="#ff0000" stroke-width="1"/>
<line x1="630.4" y1="566.03" x2="632.4" y2="566.03" stroke="#ff0000" stroke-width="1"/>
<line x1="630.4" y1="527.01" x2="632.4" y2="527.01" stroke="#ff0000" stroke-width="1"/>
<line x1="653.9" y1="507.5" x2="653.9" y2="702.6" stroke="#0000ff" stroke-width="1.2"/>
<line x1="653.9" y1="691.76" x2="656.9" y2="691.76" stroke="#0000ff" stroke-width="1"/>
<text x="657.6" y="694.86" font-size="8.5" fill="#0000ff" font-weight="bold">5.05</text>
<line x1="653.9" y1="670.08" x2="656.9" y2="670.08" stroke="#0000ff" stroke-width="1"/>
<text x="657.6" y="673.18" font-size="8.5" fill="#0000ff" font-weight="bold">5.10</text>
<line x1="653.9" y1="648.41" x2="656.9" y2="648.41" stroke="#0000ff" stroke-width="1"/>
<text x="657.6" y="651.51" font-size="8.5" fill="#0000ff" font-weight="bold">5.15</text>
<line x1="653.9" y1="626.73" x2="656.9" y2="626.73" stroke="#0000ff" stroke-width="1"/>
<text x="657.6" y="629.83" font-size="8.5" fill="#0000ff" font-weight="bold">5.20</text>
<line x1="653.9" y1="605.05" x2="656.9" y2="605.05" stroke="#0000ff" stroke-width="1"/>
<text x="657.6" y="608.15" font-size="8.5" fill="#0000ff" font-weight="bold">5.25</text>
<line x1="653.9" y1="583.37" x2="656.9" y2="583.37" stroke="#0000ff" stroke-width="1"/>
<text x="657.6" y="586.47" font-size="8.5" fill="#0000ff" font-weight="bold">5.30</text>
<line x1="653.9" y1="561.69" x2="656.9" y2="561.69" stroke="#0000ff" stroke-width="1"/>
<text x="657.6" y="564.79" font-size="8.5" fill="#0000ff" font-weight="bold">5.35</text>
<line x1="653.9" y1="540.02" x2="656.9" y2="540.02" stroke="#0000ff" stroke-width="1"/>
<text x="657.6" y="543.12" font-size="8.5" fill="#0000ff" font-weight="bold">5.40</text>
<line x1="653.9" y1="518.34" x2="656.9" y2="518.34" stroke="#0000ff" stroke-width="1"/>
<text x="657.6" y="521.44" font-size="8.5" fill="#0000ff" font-weight="bold">5.45</text>
<line x1="653.9" y1="702.6" x2="655.9" y2="702.6" stroke="#0000ff" stroke-width="1"/>
<line x1="653.9" y1="680.92" x2="655.9" y2="680.92" stroke="#0000ff" stroke-width="1"/>
<line x1="653.9" y1="659.24" x2="655.9" y2="659.24" stroke="#0000ff" stroke-width="1"/>
<line x1="653.9" y1="637.57" x2="655.9" y2="637.57" stroke="#0000ff" stroke-width="1"/>
<line x1="653.9" y1="615.89" x2="655.9" y2="615.89" stroke="#0000ff" stroke-width="1"/>
<line x1="653.9" y1="594.21" x2="655.9" y2="594.21" stroke="#0000ff" stroke-width="1"/>
<line x1="653.9" y1="572.53" x2="655.9" y2="572.53" stroke="#0000ff" stroke-width="1"/>
<line x1="653.9" y1="550.86" x2="655.9" y2="550.86" stroke="#0000ff" stroke-width="1"/>
<line x1="653.9" y1="529.18" x2="655.9" y2="529.18" stroke="#0000ff" stroke-width="1"/>
<line x1="653.9" y1="507.5" x2="655.9" y2="507.5" stroke="#0000ff" stroke-width="1"/>
<line x1="461.1" y1="514.2" x2="481.6" y2="514.2" stroke="#ff00ff" stroke-width="2.2"/>
<use href="#fsq" x="471.3" y="514.2"/>
<text x="483.2" y="517.4" font-size="9.5" fill="#ff00ff" font-weight="bold" textLength="40.8" lengthAdjust="spacingAndGlyphs">ε<tspan font-size="6" dy="2">r</tspan><tspan dy="-2">@500Hz</tspan></text>
<line x1="530.6" y1="514.2" x2="550.6" y2="514.2" stroke="#ff0000" stroke-width="2.6"/>
<use href="#fci" x="540.8" y="514.2"/>
<text x="552" y="517.4" font-size="9.5" fill="#ff0000" font-weight="bold">γ</text>
<line x1="563.3" y1="514.2" x2="583.8" y2="514.2" stroke="#0000ff" stroke-width="2.4"/>
<use href="#ftr" x="573.5" y="514.2"/>
<text x="585.6" y="517.4" font-size="9.5" fill="#0000ff" font-weight="bold">ρ</text>
<text x="379.6" y="598.5" font-size="12.3" fill="#ff00ff" text-anchor="middle" transform="rotate(-90 379.6 598.5)" textLength="141" lengthAdjust="spacingAndGlyphs">Max Permittivity (ε<tspan font-size="8.5" dy="2">r max</tspan><tspan dy="-2">)</tspan></text>
<text x="625" y="595" font-size="11" fill="#ff0000" text-anchor="middle" transform="rotate(-90 625 595)" textLength="99" lengthAdjust="spacingAndGlyphs">diffused transition (γ)</text>
<text x="608" y="594.3" font-size="11" fill="#0000ff" text-anchor="middle" transform="rotate(-90 608 594.3)" textLength="87" lengthAdjust="spacingAndGlyphs">density (ρ)gm/cm<tspan font-size="7" dy="-4">3</tspan></text>
<text x="515" y="731.5" font-size="10" fill="#111" font-weight="bold" text-anchor="middle">Nd-content</text>
<text x="405" y="500" font-size="18" fill="#ff0000" style="font-family:'Liberation Serif', serif">f</text>
<rect x="235.6" y="760.4" width="267.7" height="214.8" fill="url(#gg)" stroke="none" stroke-width="1"/>
<line x1="235.6" y1="760.4" x2="503.3" y2="760.4" stroke="#9a9a9a" stroke-width="1"/>
<line x1="503.3" y1="760.4" x2="503.3" y2="975.2" stroke="#9a9a9a" stroke-width="1"/>
<polyline points="277.6,932.5 319.3,901.6 332.6,891.7 345.9,881.6 355.4,875 363.6,868.9 370.6,863.8 377.2,858.8 382,855.2 386.7,851.4 391.5,847.5 395.3,844.2 399.1,841.8 402.5,839 405.5,836.6 408.5,834.2 411.2,832 413.8,830 416.2,828 418.5,826.3 420.6,824.8" fill="none" stroke="#000" stroke-width="1.8" stroke-linejoin="round" marker-start="url(#m8)" marker-mid="url(#m8)" marker-end="url(#m8)"/>
<polyline points="277.6,956.2 310.2,926.8 330.2,910.7 343.4,897.4 355,889.4 369.3,875.5 375.3,870.2 383.9,862.6 389.6,857.5 395.3,852.4 397.73,850.37 400.17,848.35 402.6,846.32 405.03,844.29 407.47,842.27 409.9,840.24 412.33,838.21 414.77,836.19 417.2,834.16 419.63,832.13 422.07,830.11 424.5,828.08 426.93,826.05 429.37,824.03 431.8,822 434.23,819.97 436.67,817.95 439.1,815.92 441.53,813.89 443.97,811.87 446.4,809.84 448.83,807.81 451.27,805.79 453.7,803.76 456.13,801.73 458.57,799.71 461,797.68 463.43,795.65 465.87,793.63 468.3,791.6" fill="none" stroke="#ff0000" stroke-width="1.8" stroke-linejoin="round" marker-start="url(#m9)" marker-mid="url(#m9)" marker-end="url(#m9)"/>
<polyline points="294.7,950.5 321.2,926.8 336.4,912 347.8,901.2 357.3,891.7 366.8,884.1 374,877.5 380,872 385.5,866.8 390.5,862 392.84,859.96 395.19,857.92 397.53,855.88 399.88,853.84 402.22,851.79 404.56,849.75 406.91,847.71 409.25,845.67 411.6,843.63 413.94,841.59 416.29,839.55 418.63,837.51 420.97,835.46 423.32,833.42 425.66,831.38 428.01,829.34 430.35,827.3 432.69,825.26 435.04,823.22 437.38,821.18 439.73,819.14 442.07,817.09 444.41,815.05 446.76,813.01 449.1,810.97 451.45,808.93 453.79,806.89 456.14,804.85 458.48,802.81 460.82,800.76 463.17,798.72 465.51,796.68 467.86,794.64 470.2,792.6" fill="none" stroke="#0000ff" stroke-width="1.8" stroke-linejoin="round" marker-start="url(#m10)" marker-mid="url(#m10)" marker-end="url(#m10)"/>
<polyline points="341.7,909.7 350,901 357.5,893.5 364.5,886.5 371,880 377,874 382.5,868.5 387.5,863.5 389.86,861.15 392.23,858.79 394.59,856.44 396.95,854.08 399.32,851.73 401.68,849.37 404.05,847.02 406.41,844.66 408.77,842.31 411.14,839.95 413.5,837.6 415.86,835.25 418.23,832.89 420.59,830.54 422.95,828.18 425.32,825.83 427.68,823.47 430.05,821.12 432.41,818.76 434.77,816.41 437.14,814.05 439.5,811.7 441.86,809.35 444.23,806.99 446.59,804.64 448.95,802.28 451.32,799.93 453.68,797.57 456.05,795.22 458.41,792.86 460.77,790.51 463.14,788.15 465.5,785.8" fill="none" stroke="#00ff00" stroke-width="1.8" stroke-linejoin="round" marker-start="url(#m11)" marker-mid="url(#m11)" marker-end="url(#m11)"/>
<polyline points="311.8,947.7 322.8,935.3 335.5,921.1 347.8,907.4 357.7,896.8 366.8,887.3 373.1,880.3 379,874 384.3,868 389,862.8 391.31,860.26 393.62,857.72 395.94,855.19 398.25,852.65 400.56,850.11 402.88,847.57 405.19,845.04 407.5,842.5 409.81,839.96 412.12,837.42 414.44,834.89 416.75,832.35 419.06,829.81 421.38,827.27 423.69,824.74 426,822.2 428.31,819.66 430.62,817.12 432.94,814.59 435.25,812.05 437.56,809.51 439.88,806.98 442.19,804.44 444.5,801.9 446.81,799.36 449.12,796.83 451.44,794.29 453.75,791.75 456.06,789.21 458.38,786.67 460.69,784.14 463,781.6" fill="none" stroke="#ff00ff" stroke-width="1.8" stroke-linejoin="round" marker-start="url(#m12)" marker-mid="url(#m12)" marker-end="url(#m12)"/>
<line x1="235.6" y1="975.2" x2="503.3" y2="975.2" stroke="#222" stroke-width="1.1"/>
<line x1="235.6" y1="760.4" x2="235.6" y2="975.2" stroke="#444" stroke-width="1.1"/>
<line x1="235.6" y1="975.2" x2="235.6" y2="979.2" stroke="#222" stroke-width="1"/>
<text x="235.6" y="991.2" font-size="11.3" fill="#222" text-anchor="middle">0</text>
<line x1="280.22" y1="975.2" x2="280.22" y2="979.2" stroke="#222" stroke-width="1"/>
<text x="280.22" y="991.2" font-size="11.3" fill="#222" text-anchor="middle">1</text>
<line x1="324.83" y1="975.2" x2="324.83" y2="979.2" stroke="#222" stroke-width="1"/>
<text x="324.83" y="991.2" font-size="11.3" fill="#222" text-anchor="middle">2</text>
<line x1="369.45" y1="975.2" x2="369.45" y2="979.2" stroke="#222" stroke-width="1"/>
<text x="369.45" y="991.2" font-size="11.3" fill="#222" text-anchor="middle">3</text>
<line x1="414.07" y1="975.2" x2="414.07" y2="979.2" stroke="#222" stroke-width="1"/>
<text x="414.07" y="991.2" font-size="11.3" fill="#222" text-anchor="middle">4</text>
<line x1="458.68" y1="975.2" x2="458.68" y2="979.2" stroke="#222" stroke-width="1"/>
<text x="458.68" y="991.2" font-size="11.3" fill="#222" text-anchor="middle">5</text>
<line x1="503.3" y1="975.2" x2="503.3" y2="979.2" stroke="#222" stroke-width="1"/>
<text x="503.3" y="991.2" font-size="11.3" fill="#222" text-anchor="middle">6</text>
<line x1="257.91" y1="975.2" x2="257.91" y2="977.7" stroke="#222" stroke-width="1"/>
<line x1="302.52" y1="975.2" x2="302.52" y2="977.7" stroke="#222" stroke-width="1"/>
<line x1="347.14" y1="975.2" x2="347.14" y2="977.7" stroke="#222" stroke-width="1"/>
<line x1="391.76" y1="975.2" x2="391.76" y2="977.7" stroke="#222" stroke-width="1"/>
<line x1="436.38" y1="975.2" x2="436.38" y2="977.7" stroke="#222" stroke-width="1"/>
<line x1="480.99" y1="975.2" x2="480.99" y2="977.7" stroke="#222" stroke-width="1"/>
<line x1="231.8" y1="760.4" x2="235.6" y2="760.4" stroke="#333" stroke-width="1"/>
<text x="228.5" y="764.4" font-size="12" fill="#222" text-anchor="end">-8</text>
<line x1="231.8" y1="814.1" x2="235.6" y2="814.1" stroke="#333" stroke-width="1"/>
<text x="228.5" y="818.1" font-size="12" fill="#222" text-anchor="end">-10</text>
<line x1="231.8" y1="867.8" x2="235.6" y2="867.8" stroke="#333" stroke-width="1"/>
<text x="228.5" y="871.8" font-size="12" fill="#222" text-anchor="end">-12</text>
<line x1="231.8" y1="921.5" x2="235.6" y2="921.5" stroke="#333" stroke-width="1"/>
<text x="228.5" y="925.5" font-size="12" fill="#222" text-anchor="end">-14</text>
<line x1="231.8" y1="975.2" x2="235.6" y2="975.2" stroke="#333" stroke-width="1"/>
<text x="228.5" y="979.2" font-size="12" fill="#222" text-anchor="end">-16</text>
<line x1="233.3" y1="787.25" x2="235.6" y2="787.25" stroke="#333" stroke-width="1"/>
<line x1="233.3" y1="840.95" x2="235.6" y2="840.95" stroke="#333" stroke-width="1"/>
<line x1="233.3" y1="894.65" x2="235.6" y2="894.65" stroke="#333" stroke-width="1"/>
<line x1="233.3" y1="948.35" x2="235.6" y2="948.35" stroke="#333" stroke-width="1"/>
<rect x="237.4" y="761.3" width="80.8" height="71.8" fill="#fff" stroke="#666" stroke-width="0.8"/>
<polyline points="238.2,769.3 251.1,769.3 264.7,769.3" fill="none" stroke="#000" stroke-width="1.8" stroke-linejoin="round" marker-mid="url(#m8)"/>
<text x="267.9" y="773.3" font-size="11" fill="#000" font-weight="bold">Nd=0.0</text>
<polyline points="238.2,783.35 251.1,783.35 264.7,783.35" fill="none" stroke="#ff0000" stroke-width="1.8" stroke-linejoin="round" marker-mid="url(#m9)"/>
<text x="267.9" y="787.35" font-size="11" fill="#ff0000" font-weight="bold">Nd=0.025</text>
<polyline points="238.2,797.4 251.1,797.4 264.7,797.4" fill="none" stroke="#0000ff" stroke-width="1.8" stroke-linejoin="round" marker-mid="url(#m10)"/>
<text x="267.9" y="801.4" font-size="11" fill="#0000ff" font-weight="bold">Nd=0.05</text>
<polyline points="238.2,811.45 251.1,811.45 264.7,811.45" fill="none" stroke="#00ff00" stroke-width="1.8" stroke-linejoin="round" marker-mid="url(#m11)"/>
<text x="267.9" y="815.45" font-size="11" fill="#00ff00" font-weight="bold">Nd=0.075</text>
<polyline points="238.2,825.5 251.1,825.5 264.7,825.5" fill="none" stroke="#ff00ff" stroke-width="1.8" stroke-linejoin="round" marker-mid="url(#m12)"/>
<text x="267.9" y="829.5" font-size="11" fill="#ff00ff" font-weight="bold">Nd=0.1</text>
<text x="480.6" y="774.5" font-size="10" fill="#ff0000" font-weight="bold">(g)</text>
<text x="202.4" y="866.8" font-size="13" fill="#111" font-weight="bold" text-anchor="middle" transform="rotate(-90 202.4 866.8)">ln (1/ε-1/ε<tspan font-size="9" dy="3">max</tspan><tspan dy="-3">)</tspan></text>
<text x="366.3" y="1006.4" font-size="13" fill="#111" font-weight="bold" text-anchor="middle">ln (T-T<tspan font-size="9" dy="3">m</tspan><tspan dy="-3">)</tspan></text>
</svg></body></html>
